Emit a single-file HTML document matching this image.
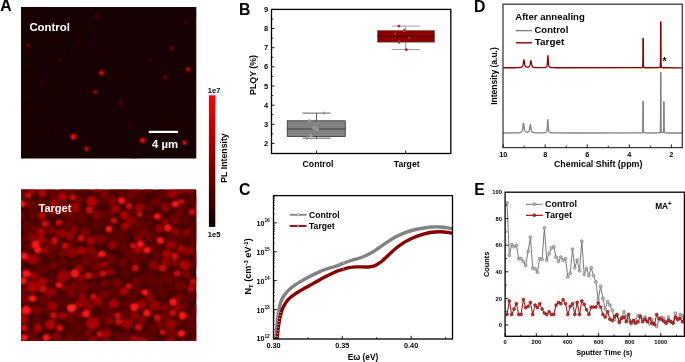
<!DOCTYPE html><html><head><meta charset="utf-8"><style>html,body{margin:0;padding:0;background:#fff}svg{display:block;will-change:transform}text{font-family:"Liberation Sans",sans-serif;font-weight:bold;fill:#000}</style></head><body>
<svg width="685" height="362" viewBox="0 0 685 362">
<defs><filter id="b1" x="-10%" y="-10%" width="120%" height="120%"><feGaussianBlur stdDeviation="1.1"/></filter><filter id="b2" x="-10%" y="-10%" width="120%" height="120%"><feGaussianBlur stdDeviation="1.15"/></filter><clipPath id="cA"><rect x="21" y="7" width="175.3" height="151.5"/></clipPath><clipPath id="cT"><rect x="21" y="189.6" width="175.3" height="151.4"/></clipPath><clipPath id="cC"><rect x="273.5" y="196" width="179" height="143"/></clipPath><clipPath id="cE"><rect x="505.1" y="192.2" width="179.3" height="144"/></clipPath><linearGradient id="cb" x1="0" y1="0" x2="0" y2="1"><stop offset="0" stop-color="#ff0000"/><stop offset="0.5" stop-color="#860000"/><stop offset="1" stop-color="#0c0000"/></linearGradient></defs>
<rect width="685" height="362" fill="#fff"/>
<text x="0.2" y="11.1" font-size="15.8">A</text>
<text x="239" y="14.5" font-size="15.8">B</text>
<text x="238.9" y="194.8" font-size="15.8">C</text>
<text x="474" y="11.9" font-size="15.8">D</text>
<text x="474.2" y="194.8" font-size="15.8">E</text>
<g clip-path="url(#cA)"><rect x="20" y="6" width="177" height="153" fill="#170303"/><g filter="url(#b1)">
<circle cx="77.7" cy="29.8" r="4.0" fill="#260404" opacity="0.18"/>
<circle cx="114.8" cy="62.2" r="2.2" fill="#260404" opacity="0.33"/>
<circle cx="27.6" cy="72.5" r="2.2" fill="#260404" opacity="0.18"/>
<circle cx="95.3" cy="131.9" r="2.4" fill="#260404" opacity="0.23"/>
<circle cx="130.8" cy="150.1" r="3.7" fill="#260404" opacity="0.29"/>
<circle cx="191.8" cy="14.0" r="4.6" fill="#260404" opacity="0.25"/>
<circle cx="46.2" cy="24.8" r="2.9" fill="#260404" opacity="0.44"/>
<circle cx="52.6" cy="94.8" r="3.9" fill="#260404" opacity="0.28"/>
<circle cx="116.9" cy="16.5" r="2.2" fill="#260404" opacity="0.22"/>
<circle cx="140.1" cy="71.6" r="2.9" fill="#260404" opacity="0.35"/>
<circle cx="100.3" cy="52.3" r="4.4" fill="#260404" opacity="0.39"/>
<circle cx="63.7" cy="93.7" r="3.6" fill="#260404" opacity="0.46"/>
<circle cx="148.7" cy="50.5" r="4.9" fill="#260404" opacity="0.19"/>
<circle cx="94.2" cy="121.3" r="2.5" fill="#260404" opacity="0.32"/>
<circle cx="27.9" cy="107.9" r="4.3" fill="#260404" opacity="0.35"/>
<circle cx="174.2" cy="54.4" r="4.1" fill="#260404" opacity="0.36"/>
<circle cx="122.5" cy="75.9" r="4.5" fill="#260404" opacity="0.48"/>
<circle cx="104.0" cy="107.3" r="2.2" fill="#260404" opacity="0.40"/>
<circle cx="134.2" cy="157.0" r="4.5" fill="#260404" opacity="0.25"/>
<circle cx="88.5" cy="108.0" r="2.1" fill="#260404" opacity="0.31"/>
<circle cx="50.4" cy="24.7" r="2.2" fill="#260404" opacity="0.42"/>
<circle cx="43.6" cy="44.4" r="3.2" fill="#260404" opacity="0.45"/>
<circle cx="35.1" cy="74.8" r="3.6" fill="#260404" opacity="0.46"/>
<circle cx="164.4" cy="137.5" r="2.8" fill="#260404" opacity="0.30"/>
<circle cx="83.8" cy="140.5" r="4.9" fill="#260404" opacity="0.20"/>
<circle cx="51.8" cy="42.0" r="2.7" fill="#260404" opacity="0.32"/>
<circle cx="124.1" cy="46.7" r="2.0" fill="#260404" opacity="0.30"/>
<circle cx="85.6" cy="92.5" r="4.9" fill="#260404" opacity="0.39"/>
<circle cx="111.2" cy="100.3" r="4.0" fill="#260404" opacity="0.17"/>
<circle cx="178.4" cy="124.8" r="4.6" fill="#260404" opacity="0.43"/>
<circle cx="89.7" cy="67.2" r="2.3" fill="#260404" opacity="0.37"/>
<circle cx="31.9" cy="17.2" r="2.6" fill="#260404" opacity="0.21"/>
<circle cx="80.5" cy="14.9" r="2.0" fill="#260404" opacity="0.20"/>
<circle cx="38.8" cy="61.9" r="2.1" fill="#260404" opacity="0.46"/>
<circle cx="128.5" cy="29.4" r="2.8" fill="#260404" opacity="0.27"/>
<circle cx="84.7" cy="25.5" r="4.5" fill="#260404" opacity="0.50"/>
<circle cx="102.5" cy="80.1" r="2.3" fill="#260404" opacity="0.19"/>
<circle cx="81.0" cy="47.0" r="4.5" fill="#260404" opacity="0.21"/>
<circle cx="25.0" cy="150.6" r="3.6" fill="#260404" opacity="0.20"/>
<circle cx="116.1" cy="11.1" r="3.6" fill="#260404" opacity="0.49"/>
<circle cx="172.1" cy="112.1" r="2.8" fill="#260404" opacity="0.28"/>
<circle cx="50.2" cy="123.6" r="3.6" fill="#260404" opacity="0.42"/>
<circle cx="78.7" cy="40.7" r="4.4" fill="#260404" opacity="0.49"/>
<circle cx="170.2" cy="128.7" r="4.5" fill="#260404" opacity="0.41"/>
<circle cx="60.7" cy="85.2" r="3.1" fill="#260404" opacity="0.16"/>
<circle cx="25.9" cy="49.2" r="2.8" fill="#260404" opacity="0.39"/>
<circle cx="188.4" cy="74.5" r="4.8" fill="#260404" opacity="0.50"/>
<circle cx="188.1" cy="62.1" r="2.7" fill="#260404" opacity="0.23"/>
<circle cx="55.4" cy="37.9" r="3.9" fill="#260404" opacity="0.47"/>
<circle cx="168.1" cy="79.4" r="4.0" fill="#260404" opacity="0.43"/>
<circle cx="35.8" cy="106.7" r="4.7" fill="#260404" opacity="0.42"/>
<circle cx="152.3" cy="79.2" r="2.5" fill="#260404" opacity="0.43"/>
<circle cx="79.2" cy="127.9" r="4.9" fill="#260404" opacity="0.29"/>
<circle cx="91.2" cy="150.0" r="4.2" fill="#260404" opacity="0.21"/>
<circle cx="43.2" cy="29.8" r="4.7" fill="#260404" opacity="0.43"/>
<circle cx="46.6" cy="131.8" r="4.9" fill="#260404" opacity="0.38"/>
<circle cx="82.3" cy="89.8" r="2.4" fill="#260404" opacity="0.15"/>
<circle cx="190.9" cy="105.1" r="3.6" fill="#260404" opacity="0.48"/>
<circle cx="96.9" cy="138.6" r="4.5" fill="#260404" opacity="0.22"/>
<circle cx="65.1" cy="51.2" r="2.7" fill="#260404" opacity="0.36"/>
<circle cx="101.6" cy="73" r="2.3" fill="#ff1010"/>
<circle cx="95.2" cy="92" r="2.0" fill="#c80808"/>
<circle cx="73.3" cy="136.7" r="2.8" fill="#ff1010"/>
<circle cx="86.5" cy="149" r="2.3" fill="#d00a0a"/>
<circle cx="142.6" cy="140.3" r="2.6" fill="#ff1010"/>
<circle cx="184.5" cy="142.6" r="2.2" fill="#ff1010"/>
<circle cx="188" cy="69" r="2.2" fill="#b80808"/>
<circle cx="172" cy="48" r="2.2" fill="#700606"/>
<circle cx="165" cy="77.5" r="2.2" fill="#600505"/>
<circle cx="28.7" cy="45.6" r="2.0" fill="#700606"/>
<circle cx="97" cy="16" r="2.0" fill="#5a0505"/>
<circle cx="120.7" cy="102.5" r="2.2" fill="#550505"/>
<circle cx="42" cy="82" r="2" fill="#400505"/>
<circle cx="186" cy="22" r="2" fill="#500505"/>
<circle cx="150" cy="60" r="2" fill="#400505"/>
<circle cx="60" cy="60" r="2" fill="#3a0505"/>
<circle cx="130" cy="125" r="2" fill="#400505"/>
</g></g>
<text x="29.4" y="31.4" font-size="11.4" style="fill:#fff">Control</text>
<rect x="148.8" y="130.8" width="29.3" height="2.2" fill="#fff"/>
<text x="152" y="147.6" font-size="10.8" textLength="26" lengthAdjust="spacingAndGlyphs" style="fill:#fff">4 µm</text>
<rect x="208.9" y="95.3" width="6.4" height="131.6" fill="url(#cb)"/>
<text x="207.7" y="92.9" font-size="7.6">1e7</text>
<text x="207.7" y="237" font-size="7.6">1e5</text>
<text transform="translate(227.2,158) rotate(-90)" font-size="8.75" text-anchor="middle">PL Intensity</text>
<g clip-path="url(#cT)"><rect x="20" y="189" width="177" height="153" fill="#440101"/><g filter="url(#b2)">
<ellipse cx="184.9" cy="265.3" rx="5.5" ry="5.1" fill="rgb(170,6,6)"/>
<ellipse cx="112.3" cy="188.0" rx="5.2" ry="5.0" fill="rgb(92,1,1)"/>
<ellipse cx="49.7" cy="185.6" rx="6.2" ry="5.4" fill="rgb(125,3,3)"/>
<ellipse cx="143.5" cy="257.4" rx="5.5" ry="5.4" fill="rgb(89,1,1)"/>
<ellipse cx="41.2" cy="204.5" rx="5.2" ry="4.6" fill="rgb(115,2,2)"/>
<ellipse cx="44.4" cy="299.6" rx="5.8" ry="5.6" fill="rgb(108,2,2)"/>
<ellipse cx="56.4" cy="337.4" rx="5.1" ry="4.9" fill="rgb(128,3,3)"/>
<ellipse cx="105.7" cy="343.4" rx="6.3" ry="5.4" fill="rgb(134,4,4)"/>
<ellipse cx="148.9" cy="188.1" rx="5.6" ry="5.1" fill="rgb(123,3,3)"/>
<ellipse cx="97.0" cy="187.9" rx="4.9" ry="4.9" fill="rgb(146,4,4)"/>
<ellipse cx="197.3" cy="311.1" rx="6.7" ry="6.6" fill="rgb(99,1,1)"/>
<ellipse cx="35.3" cy="227.5" rx="4.1" ry="3.7" fill="rgb(106,2,2)"/>
<ellipse cx="159.3" cy="228.3" rx="4.4" ry="3.7" fill="rgb(150,5,5)"/>
<ellipse cx="63.6" cy="208.9" rx="6.6" ry="5.8" fill="rgb(141,4,4)"/>
<ellipse cx="108.0" cy="213.5" rx="5.0" ry="4.4" fill="rgb(105,2,2)"/>
<ellipse cx="166.7" cy="254.1" rx="5.4" ry="4.6" fill="rgb(161,6,6)"/>
<ellipse cx="142.5" cy="342.2" rx="5.0" ry="4.9" fill="rgb(171,6,6)"/>
<ellipse cx="90.5" cy="240.6" rx="4.2" ry="3.9" fill="rgb(170,6,6)"/>
<ellipse cx="170.8" cy="324.3" rx="5.9" ry="5.5" fill="rgb(146,4,4)"/>
<ellipse cx="67.9" cy="223.8" rx="4.8" ry="4.8" fill="rgb(100,1,1)"/>
<ellipse cx="73.0" cy="242.1" rx="4.0" ry="3.4" fill="rgb(105,2,2)"/>
<ellipse cx="86.2" cy="260.9" rx="5.4" ry="5.2" fill="rgb(116,2,2)"/>
<ellipse cx="53.0" cy="265.8" rx="4.0" ry="3.6" fill="rgb(120,3,3)"/>
<ellipse cx="23.7" cy="188.6" rx="4.9" ry="4.5" fill="rgb(109,2,2)"/>
<ellipse cx="180.1" cy="285.4" rx="6.1" ry="5.4" fill="rgb(111,2,2)"/>
<ellipse cx="165.4" cy="207.3" rx="5.5" ry="5.4" fill="rgb(132,4,4)"/>
<ellipse cx="168.1" cy="278.4" rx="6.5" ry="6.2" fill="rgb(104,2,2)"/>
<ellipse cx="153.7" cy="265.5" rx="5.5" ry="5.2" fill="rgb(136,4,4)"/>
<ellipse cx="62.4" cy="196.9" rx="4.7" ry="4.6" fill="rgb(173,6,6)"/>
<ellipse cx="195.5" cy="264.0" rx="5.1" ry="4.9" fill="rgb(96,1,1)"/>
<ellipse cx="104.1" cy="294.4" rx="6.1" ry="5.3" fill="rgb(110,2,2)"/>
<ellipse cx="111.0" cy="259.3" rx="5.3" ry="4.9" fill="rgb(112,2,2)"/>
<ellipse cx="37.8" cy="328.0" rx="4.6" ry="4.4" fill="rgb(163,6,6)"/>
<ellipse cx="196.0" cy="334.8" rx="4.0" ry="3.6" fill="rgb(101,1,1)"/>
<ellipse cx="42.1" cy="268.9" rx="6.7" ry="5.8" fill="rgb(98,1,1)"/>
<ellipse cx="179.2" cy="297.5" rx="4.6" ry="4.4" fill="rgb(118,3,3)"/>
<ellipse cx="16.7" cy="263.7" rx="5.3" ry="5.0" fill="rgb(158,5,5)"/>
<ellipse cx="199.8" cy="279.3" rx="5.0" ry="4.4" fill="rgb(117,3,3)"/>
<ellipse cx="191.9" cy="326.5" rx="6.3" ry="5.4" fill="rgb(91,1,1)"/>
<ellipse cx="134.6" cy="230.8" rx="4.1" ry="4.1" fill="rgb(91,1,1)"/>
<ellipse cx="195.6" cy="226.6" rx="5.8" ry="5.4" fill="rgb(90,1,1)"/>
<ellipse cx="182.8" cy="344.4" rx="5.3" ry="4.5" fill="rgb(173,6,6)"/>
<ellipse cx="41.7" cy="215.8" rx="4.3" ry="4.2" fill="rgb(170,6,6)"/>
<ellipse cx="78.9" cy="199.6" rx="4.7" ry="4.6" fill="rgb(111,2,2)"/>
<ellipse cx="63.5" cy="276.1" rx="6.5" ry="6.1" fill="rgb(155,5,5)"/>
<ellipse cx="112.4" cy="245.3" rx="4.9" ry="4.7" fill="rgb(142,4,4)"/>
<ellipse cx="174.8" cy="219.6" rx="4.8" ry="4.6" fill="rgb(119,3,3)"/>
<ellipse cx="16.0" cy="247.6" rx="6.6" ry="5.9" fill="rgb(104,2,2)"/>
<ellipse cx="123.3" cy="247.1" rx="4.6" ry="4.5" fill="rgb(99,1,1)"/>
<ellipse cx="126.6" cy="186.7" rx="4.8" ry="4.4" fill="rgb(115,2,2)"/>
<ellipse cx="72.6" cy="188.5" rx="5.4" ry="5.1" fill="rgb(120,3,3)"/>
<ellipse cx="22.3" cy="239.1" rx="5.2" ry="4.5" fill="rgb(100,1,1)"/>
<ellipse cx="70.3" cy="337.3" rx="5.4" ry="5.4" fill="rgb(108,2,2)"/>
<ellipse cx="42.1" cy="193.3" rx="4.2" ry="4.0" fill="rgb(174,6,6)"/>
<ellipse cx="80.7" cy="337.9" rx="4.3" ry="3.8" fill="rgb(102,1,1)"/>
<ellipse cx="181.0" cy="189.8" rx="5.2" ry="4.9" fill="rgb(137,4,4)"/>
<ellipse cx="165.4" cy="307.7" rx="4.1" ry="4.1" fill="rgb(127,3,3)"/>
<ellipse cx="74.2" cy="229.1" rx="4.0" ry="3.7" fill="rgb(133,4,4)"/>
<ellipse cx="189.6" cy="188.9" rx="4.7" ry="4.5" fill="rgb(142,4,4)"/>
<ellipse cx="106.8" cy="333.5" rx="4.5" ry="4.3" fill="rgb(158,5,5)"/>
<ellipse cx="158.2" cy="282.2" rx="4.9" ry="4.8" fill="rgb(103,2,2)"/>
<ellipse cx="92.6" cy="323.3" rx="6.8" ry="6.3" fill="rgb(170,6,6)"/>
<ellipse cx="45.5" cy="310.7" rx="4.6" ry="4.0" fill="rgb(98,1,1)"/>
<ellipse cx="61.5" cy="301.0" rx="6.5" ry="6.4" fill="rgb(89,1,1)"/>
<ellipse cx="23.0" cy="319.1" rx="4.3" ry="4.3" fill="rgb(173,6,6)"/>
<ellipse cx="126.3" cy="273.0" rx="5.8" ry="5.3" fill="rgb(88,1,1)"/>
<ellipse cx="72.3" cy="252.2" rx="5.6" ry="5.6" fill="rgb(140,4,4)"/>
<ellipse cx="103.1" cy="202.1" rx="4.4" ry="3.7" fill="rgb(93,1,1)"/>
<ellipse cx="109.1" cy="236.1" rx="4.1" ry="3.7" fill="rgb(92,1,1)"/>
<ellipse cx="35.2" cy="343.9" rx="5.8" ry="5.0" fill="rgb(154,5,5)"/>
<ellipse cx="123.8" cy="291.2" rx="4.9" ry="4.2" fill="rgb(164,6,6)"/>
<ellipse cx="129.4" cy="254.2" rx="5.4" ry="4.9" fill="rgb(104,2,2)"/>
<ellipse cx="136.2" cy="188.6" rx="4.0" ry="3.9" fill="rgb(146,4,4)"/>
<ellipse cx="117.4" cy="335.5" rx="4.4" ry="4.1" fill="rgb(101,1,1)"/>
<ellipse cx="134.0" cy="315.1" rx="4.5" ry="4.5" fill="rgb(147,5,5)"/>
<ellipse cx="134.1" cy="339.4" rx="4.6" ry="4.2" fill="rgb(169,6,6)"/>
<ellipse cx="132.0" cy="295.9" rx="5.9" ry="5.3" fill="rgb(92,1,1)"/>
<ellipse cx="183.6" cy="208.1" rx="4.1" ry="3.7" fill="rgb(100,1,1)"/>
<ellipse cx="53.9" cy="202.9" rx="4.1" ry="4.1" fill="rgb(160,5,5)"/>
<ellipse cx="156.2" cy="341.5" rx="4.0" ry="4.0" fill="rgb(89,1,1)"/>
<ellipse cx="154.8" cy="305.5" rx="5.8" ry="5.6" fill="rgb(148,5,5)"/>
<ellipse cx="54.0" cy="247.1" rx="4.1" ry="3.9" fill="rgb(116,2,2)"/>
<ellipse cx="42.1" cy="281.6" rx="5.1" ry="4.5" fill="rgb(166,6,6)"/>
<ellipse cx="73.6" cy="285.5" rx="4.3" ry="4.2" fill="rgb(116,2,2)"/>
<ellipse cx="140.2" cy="333.8" rx="4.5" ry="4.5" fill="rgb(92,1,1)"/>
<ellipse cx="62.7" cy="253.2" rx="4.5" ry="4.0" fill="rgb(115,2,2)"/>
<ellipse cx="16.5" cy="300.5" rx="4.8" ry="4.6" fill="rgb(141,4,4)"/>
<ellipse cx="61.1" cy="233.3" rx="5.3" ry="4.9" fill="rgb(145,4,4)"/>
<ellipse cx="113.7" cy="303.7" rx="5.2" ry="4.9" fill="rgb(166,6,6)"/>
<ellipse cx="170.7" cy="245.0" rx="5.2" ry="4.5" fill="rgb(152,5,5)"/>
<ellipse cx="69.9" cy="317.4" rx="5.1" ry="4.8" fill="rgb(110,2,2)"/>
<ellipse cx="17.1" cy="215.4" rx="6.6" ry="5.7" fill="rgb(139,4,4)"/>
<ellipse cx="91.9" cy="201.3" rx="5.8" ry="5.5" fill="rgb(175,6,6)"/>
<ellipse cx="193.8" cy="199.1" rx="6.4" ry="5.5" fill="rgb(95,1,1)"/>
<ellipse cx="174.4" cy="262.8" rx="4.2" ry="3.7" fill="rgb(134,4,4)"/>
<ellipse cx="82.8" cy="288.2" rx="5.8" ry="5.5" fill="rgb(116,2,2)"/>
<ellipse cx="124.4" cy="215.3" rx="4.5" ry="4.5" fill="rgb(174,6,6)"/>
<ellipse cx="79.5" cy="268.1" rx="4.1" ry="3.6" fill="rgb(152,5,5)"/>
<ellipse cx="193.7" cy="343.7" rx="4.6" ry="4.2" fill="rgb(166,6,6)"/>
<ellipse cx="155.5" cy="201.9" rx="4.9" ry="4.4" fill="rgb(110,2,2)"/>
<ellipse cx="62.1" cy="315.7" rx="4.1" ry="3.6" fill="rgb(167,6,6)"/>
<ellipse cx="172.0" cy="193.6" rx="5.4" ry="4.7" fill="rgb(158,5,5)"/>
<ellipse cx="116.8" cy="283.0" rx="5.3" ry="4.7" fill="rgb(122,3,3)"/>
<ellipse cx="112.6" cy="200.8" rx="5.0" ry="5.0" fill="rgb(127,3,3)"/>
<ellipse cx="47.9" cy="242.3" rx="4.5" ry="4.0" fill="rgb(110,2,2)"/>
<ellipse cx="51.2" cy="230.4" rx="4.7" ry="4.6" fill="rgb(119,3,3)"/>
<ellipse cx="22.4" cy="291.3" rx="5.0" ry="4.4" fill="rgb(112,2,2)"/>
<ellipse cx="110.4" cy="271.8" rx="4.8" ry="4.1" fill="rgb(136,4,4)"/>
<ellipse cx="147.9" cy="225.8" rx="5.2" ry="5.0" fill="rgb(92,1,1)"/>
<ellipse cx="88.4" cy="304.6" rx="6.3" ry="6.2" fill="rgb(132,4,4)"/>
<ellipse cx="81.8" cy="250.9" rx="4.6" ry="4.1" fill="rgb(165,6,6)"/>
<ellipse cx="139.3" cy="223.1" rx="4.7" ry="4.1" fill="rgb(106,2,2)"/>
<ellipse cx="54.0" cy="194.7" rx="4.8" ry="4.3" fill="rgb(104,2,2)"/>
<ellipse cx="18.0" cy="343.7" rx="6.1" ry="5.7" fill="rgb(132,4,4)"/>
<ellipse cx="31.6" cy="236.8" rx="5.3" ry="5.3" fill="rgb(126,3,3)"/>
<ellipse cx="62.3" cy="263.3" rx="5.6" ry="5.0" fill="rgb(96,1,1)"/>
<ellipse cx="84.5" cy="187.4" rx="5.7" ry="5.6" fill="rgb(97,1,1)"/>
<ellipse cx="122.8" cy="343.0" rx="5.0" ry="5.0" fill="rgb(125,3,3)"/>
<ellipse cx="126.9" cy="323.3" rx="5.8" ry="5.3" fill="rgb(157,5,5)"/>
<ellipse cx="149.2" cy="237.7" rx="4.3" ry="4.0" fill="rgb(111,2,2)"/>
<ellipse cx="137.0" cy="281.3" rx="4.9" ry="4.6" fill="rgb(113,2,2)"/>
<ellipse cx="32.5" cy="189.5" rx="4.4" ry="4.1" fill="rgb(152,5,5)"/>
<ellipse cx="131.4" cy="220.9" rx="4.7" ry="4.1" fill="rgb(138,4,4)"/>
<ellipse cx="93.1" cy="340.7" rx="5.1" ry="4.7" fill="rgb(141,4,4)"/>
<ellipse cx="199.7" cy="185.8" rx="5.7" ry="5.0" fill="rgb(165,6,6)"/>
<ellipse cx="103.7" cy="220.4" rx="4.4" ry="3.9" fill="rgb(88,1,1)"/>
<ellipse cx="199.4" cy="296.2" rx="5.3" ry="5.2" fill="rgb(102,2,2)"/>
<ellipse cx="32.8" cy="286.8" rx="6.4" ry="5.9" fill="rgb(170,6,6)"/>
<ellipse cx="138.5" cy="237.7" rx="4.2" ry="3.6" fill="rgb(130,3,3)"/>
<ellipse cx="33.2" cy="259.3" rx="6.0" ry="5.3" fill="rgb(156,5,5)"/>
<ellipse cx="189.0" cy="250.9" rx="5.1" ry="4.5" fill="rgb(142,4,4)"/>
<ellipse cx="161.9" cy="185.7" rx="5.4" ry="4.9" fill="rgb(105,2,2)"/>
<ellipse cx="192.2" cy="243.0" rx="4.6" ry="4.5" fill="rgb(93,1,1)"/>
<ellipse cx="50.2" cy="324.5" rx="5.5" ry="5.1" fill="rgb(174,6,6)"/>
<ellipse cx="40.6" cy="239.2" rx="4.2" ry="4.0" fill="rgb(162,6,6)"/>
<ellipse cx="82.2" cy="296.9" rx="4.2" ry="3.7" fill="rgb(149,5,5)"/>
<ellipse cx="170.3" cy="237.0" rx="4.0" ry="3.7" fill="rgb(104,2,2)"/>
<ellipse cx="170.0" cy="344.1" rx="6.1" ry="5.7" fill="rgb(170,6,6)"/>
<ellipse cx="97.9" cy="301.5" rx="4.3" ry="4.0" fill="rgb(163,6,6)"/>
<ellipse cx="186.9" cy="274.7" rx="4.1" ry="3.6" fill="rgb(127,3,3)"/>
<ellipse cx="99.8" cy="239.3" rx="6.2" ry="5.3" fill="rgb(125,3,3)"/>
<ellipse cx="159.9" cy="324.2" rx="4.6" ry="3.9" fill="rgb(124,3,3)"/>
<ellipse cx="198.6" cy="254.4" rx="5.1" ry="5.0" fill="rgb(121,3,3)"/>
<ellipse cx="52.6" cy="210.8" rx="5.1" ry="4.6" fill="rgb(139,4,4)"/>
<ellipse cx="141.5" cy="304.2" rx="4.6" ry="4.6" fill="rgb(157,5,5)"/>
<ellipse cx="124.3" cy="313.1" rx="4.4" ry="3.8" fill="rgb(97,1,1)"/>
<ellipse cx="51.7" cy="292.2" rx="5.4" ry="4.7" fill="rgb(144,4,4)"/>
<ellipse cx="85.0" cy="231.5" rx="5.1" ry="4.4" fill="rgb(126,3,3)"/>
<ellipse cx="125.5" cy="225.8" rx="4.1" ry="3.9" fill="rgb(168,6,6)"/>
<ellipse cx="95.6" cy="266.2" rx="4.8" ry="4.3" fill="rgb(121,3,3)"/>
<ellipse cx="104.9" cy="283.7" rx="4.4" ry="3.8" fill="rgb(118,3,3)"/>
<ellipse cx="152.2" cy="289.0" rx="5.1" ry="4.7" fill="rgb(88,1,1)"/>
<ellipse cx="62.6" cy="188.9" rx="4.3" ry="3.7" fill="rgb(122,3,3)"/>
<ellipse cx="199.4" cy="217.4" rx="4.9" ry="4.7" fill="rgb(104,2,2)"/>
<ellipse cx="165.1" cy="221.7" rx="4.0" ry="3.7" fill="rgb(135,4,4)"/>
<ellipse cx="110.3" cy="313.3" rx="4.4" ry="4.1" fill="rgb(107,2,2)"/>
<ellipse cx="74.5" cy="207.9" rx="5.7" ry="5.0" fill="rgb(155,5,5)"/>
<ellipse cx="29.9" cy="204.8" rx="5.0" ry="4.8" fill="rgb(104,2,2)"/>
<ellipse cx="96.8" cy="214.6" rx="5.2" ry="4.9" fill="rgb(125,3,3)"/>
<ellipse cx="178.2" cy="212.9" rx="4.0" ry="4.0" fill="rgb(109,2,2)"/>
<ellipse cx="36.1" cy="309.7" rx="5.1" ry="4.7" fill="rgb(121,3,3)"/>
<ellipse cx="16.5" cy="226.6" rx="4.7" ry="4.0" fill="rgb(117,2,2)"/>
<ellipse cx="186.6" cy="233.0" rx="5.2" ry="4.5" fill="rgb(127,3,3)"/>
<ellipse cx="184.4" cy="305.7" rx="4.1" ry="4.1" fill="rgb(106,2,2)"/>
<ellipse cx="84.5" cy="344.9" rx="4.1" ry="3.5" fill="rgb(91,1,1)"/>
<ellipse cx="123.1" cy="262.9" rx="5.2" ry="4.7" fill="rgb(109,2,2)"/>
<ellipse cx="71.3" cy="293.5" rx="5.0" ry="4.7" fill="rgb(121,3,3)"/>
<ellipse cx="120.4" cy="191.9" rx="4.4" ry="4.4" fill="rgb(98,1,1)"/>
<ellipse cx="154.7" cy="247.3" rx="4.9" ry="4.8" fill="rgb(100,1,1)"/>
<ellipse cx="80.7" cy="278.7" rx="4.6" ry="4.0" fill="rgb(133,4,4)"/>
<ellipse cx="95.8" cy="256.7" rx="4.5" ry="4.3" fill="rgb(126,3,3)"/>
<ellipse cx="17.7" cy="273.3" rx="4.1" ry="3.9" fill="rgb(115,2,2)"/>
<ellipse cx="96.4" cy="275.0" rx="4.3" ry="3.8" fill="rgb(115,2,2)"/>
<ellipse cx="132.1" cy="212.3" rx="4.2" ry="4.0" fill="rgb(96,1,1)"/>
<ellipse cx="78.7" cy="304.2" rx="4.6" ry="4.3" fill="rgb(162,6,6)"/>
<ellipse cx="75.6" cy="262.2" rx="4.0" ry="3.7" fill="rgb(96,1,1)"/>
<ellipse cx="142.7" cy="232.0" rx="4.2" ry="3.8" fill="rgb(121,3,3)"/>
<ellipse cx="52.4" cy="306.0" rx="4.8" ry="4.6" fill="rgb(160,5,5)"/>
<ellipse cx="138.3" cy="289.9" rx="4.0" ry="4.0" fill="rgb(103,2,2)"/>
<ellipse cx="109.6" cy="321.1" rx="4.0" ry="3.7" fill="rgb(142,4,4)"/>
<ellipse cx="16.2" cy="334.5" rx="4.1" ry="3.5" fill="rgb(114,2,2)"/>
<ellipse cx="199.9" cy="236.9" rx="5.8" ry="5.6" fill="rgb(96,1,1)"/>
<ellipse cx="87.6" cy="333.1" rx="4.1" ry="3.6" fill="rgb(124,3,3)"/>
<ellipse cx="198.5" cy="208.1" rx="4.6" ry="4.4" fill="rgb(146,4,4)"/>
<ellipse cx="90.6" cy="250.2" rx="4.6" ry="4.6" fill="rgb(136,4,4)"/>
<ellipse cx="175.7" cy="231.3" rx="4.1" ry="3.6" fill="rgb(149,5,5)"/>
<ellipse cx="180.3" cy="322.3" rx="4.3" ry="4.3" fill="rgb(96,1,1)"/>
<ellipse cx="41.1" cy="232.0" rx="4.3" ry="3.9" fill="rgb(171,6,6)"/>
<ellipse cx="45.1" cy="250.4" rx="4.0" ry="3.8" fill="rgb(149,5,5)"/>
<ellipse cx="103.3" cy="264.6" rx="4.2" ry="3.7" fill="rgb(154,5,5)"/>
<ellipse cx="64.5" cy="343.5" rx="4.0" ry="3.6" fill="rgb(122,3,3)"/>
<ellipse cx="149.5" cy="216.4" rx="4.3" ry="4.3" fill="rgb(97,1,1)"/>
<ellipse cx="18.1" cy="311.4" rx="4.7" ry="4.7" fill="rgb(146,4,4)"/>
<ellipse cx="18.5" cy="196.2" rx="4.6" ry="4.0" fill="rgb(164,6,6)"/>
<ellipse cx="149.5" cy="297.6" rx="4.7" ry="4.5" fill="rgb(136,4,4)"/>
<ellipse cx="65.0" cy="287.4" rx="4.2" ry="3.6" fill="rgb(122,3,3)"/>
<ellipse cx="32.3" cy="334.5" rx="4.7" ry="4.4" fill="rgb(102,2,2)"/>
<ellipse cx="29.0" cy="247.4" rx="4.1" ry="4.0" fill="rgb(104,2,2)"/>
<ellipse cx="104.3" cy="194.2" rx="4.8" ry="4.8" fill="rgb(126,3,3)"/>
<ellipse cx="191.0" cy="288.3" rx="4.1" ry="3.6" fill="rgb(175,6,6)"/>
<ellipse cx="24.9" cy="299.2" rx="4.3" ry="4.0" fill="rgb(118,3,3)"/>
<ellipse cx="69.9" cy="235.3" rx="4.6" ry="4.5" fill="rgb(148,5,5)"/>
<ellipse cx="33.7" cy="276.0" rx="4.6" ry="4.2" fill="rgb(150,5,5)"/>
<ellipse cx="171.1" cy="288.3" rx="4.4" ry="3.8" fill="rgb(88,1,1)"/>
<ellipse cx="79.1" cy="314.8" rx="4.1" ry="3.7" fill="rgb(113,2,2)"/>
<ellipse cx="156.1" cy="235.3" rx="4.1" ry="4.0" fill="rgb(91,1,1)"/>
<ellipse cx="115.5" cy="209.0" rx="4.4" ry="3.9" fill="rgb(168,6,6)"/>
<ellipse cx="182.0" cy="256.7" rx="4.3" ry="4.1" fill="rgb(90,1,1)"/>
<ellipse cx="141.4" cy="319.6" rx="4.8" ry="4.2" fill="rgb(126,3,3)"/>
<ellipse cx="180.8" cy="248.7" rx="4.1" ry="3.7" fill="rgb(172,6,6)"/>
<ellipse cx="17.0" cy="285.2" rx="4.1" ry="3.7" fill="rgb(173,6,6)"/>
<ellipse cx="165.5" cy="262.3" rx="4.1" ry="4.0" fill="rgb(156,5,5)"/>
<ellipse cx="172.4" cy="334.3" rx="5.0" ry="4.7" fill="rgb(121,3,3)"/>
<ellipse cx="189.3" cy="317.5" rx="4.3" ry="3.8" fill="rgb(100,1,1)"/>
<ellipse cx="165.9" cy="316.2" rx="4.5" ry="4.2" fill="rgb(115,2,2)"/>
<ellipse cx="16.9" cy="325.0" rx="4.9" ry="4.4" fill="rgb(130,3,3)"/>
<ellipse cx="130.3" cy="195.6" rx="4.2" ry="3.9" fill="rgb(120,3,3)"/>
<ellipse cx="139.6" cy="207.4" rx="4.4" ry="3.7" fill="rgb(164,6,6)"/>
<ellipse cx="137.7" cy="250.2" rx="4.1" ry="3.6" fill="rgb(163,6,6)"/>
<ellipse cx="149.6" cy="337.2" rx="4.8" ry="4.3" fill="rgb(97,1,1)"/>
<ellipse cx="46.5" cy="344.9" rx="4.4" ry="4.1" fill="rgb(98,1,1)"/>
<ellipse cx="177.2" cy="307.9" rx="4.2" ry="3.8" fill="rgb(141,4,4)"/>
<ellipse cx="102.8" cy="327.1" rx="4.1" ry="3.6" fill="rgb(88,1,1)"/>
<ellipse cx="135.6" cy="260.4" rx="4.2" ry="4.0" fill="rgb(103,2,2)"/>
<ellipse cx="69.9" cy="216.3" rx="4.1" ry="3.8" fill="rgb(104,2,2)"/>
<ellipse cx="81.0" cy="218.4" rx="7.0" ry="6.6" fill="#5e0202"/>
<ellipse cx="26.3" cy="226.8" rx="5.5" ry="5.4" fill="#5e0202"/>
<ellipse cx="32.6" cy="214.2" rx="5.0" ry="4.3" fill="#5e0202"/>
<ellipse cx="51.5" cy="256.2" rx="5.0" ry="4.4" fill="#5e0202"/>
<ellipse cx="95.6" cy="224.7" rx="5.5" ry="4.7" fill="#5e0202"/>
<ellipse cx="139.5" cy="197.4" rx="6.0" ry="5.3" fill="#5e0202"/>
<ellipse cx="148.0" cy="208.0" rx="5.0" ry="4.7" fill="#5e0202"/>
<ellipse cx="120.6" cy="235.2" rx="7.0" ry="6.7" fill="#5e0202"/>
<ellipse cx="179.4" cy="239.4" rx="5.5" ry="5.4" fill="#5e0202"/>
<ellipse cx="185.7" cy="220.5" rx="5.5" ry="4.9" fill="#5e0202"/>
<ellipse cx="156.0" cy="256.0" rx="5.0" ry="4.4" fill="#5e0202"/>
<ellipse cx="162.6" cy="195.3" rx="5.0" ry="4.9" fill="#5e0202"/>
<ellipse cx="93.5" cy="286.0" rx="5.0" ry="4.6" fill="#5e0202"/>
<ellipse cx="76.7" cy="325.9" rx="7.0" ry="6.5" fill="#5e0202"/>
<ellipse cx="36.8" cy="319.6" rx="5.0" ry="4.6" fill="#5e0202"/>
<ellipse cx="102.0" cy="317.5" rx="5.0" ry="4.6" fill="#5e0202"/>
<ellipse cx="51.5" cy="279.7" rx="5.0" ry="4.7" fill="#5e0202"/>
<ellipse cx="104.0" cy="307.0" rx="5.0" ry="4.4" fill="#5e0202"/>
<ellipse cx="148.0" cy="277.6" rx="7.0" ry="6.6" fill="#5e0202"/>
<ellipse cx="114.3" cy="292.3" rx="5.5" ry="4.7" fill="#5e0202"/>
<ellipse cx="124.8" cy="305.0" rx="5.0" ry="5.0" fill="#5e0202"/>
<ellipse cx="162.6" cy="292.3" rx="5.5" ry="4.9" fill="#5e0202"/>
<ellipse cx="152.0" cy="328.0" rx="5.5" ry="5.2" fill="#5e0202"/>
<ellipse cx="190.0" cy="296.5" rx="5.0" ry="4.5" fill="#5e0202"/>
<ellipse cx="127.0" cy="334.0" rx="5.0" ry="4.3" fill="#5e0202"/>
<ellipse cx="35.8" cy="244.7" rx="4.0" ry="3.9" fill="#fa1414"/>
<ellipse cx="37.9" cy="250.0" rx="3.6" ry="3.4" fill="#fa1414"/>
<ellipse cx="45.2" cy="223.7" rx="3.8" ry="3.3" fill="#c60909"/>
<ellipse cx="54.7" cy="240.5" rx="3.6" ry="3.4" fill="#c60909"/>
<ellipse cx="65.2" cy="245.7" rx="3.6" ry="3.1" fill="#c60909"/>
<ellipse cx="24.2" cy="256.2" rx="3.8" ry="3.6" fill="#fa1414"/>
<ellipse cx="102.0" cy="254.0" rx="3.6" ry="3.3" fill="#fa1414"/>
<ellipse cx="89.3" cy="210.0" rx="3.8" ry="3.6" fill="#c60909"/>
<ellipse cx="58.9" cy="222.6" rx="3.4" ry="3.1" fill="#c60909"/>
<ellipse cx="81.0" cy="238.4" rx="3.6" ry="3.3" fill="#c60909"/>
<ellipse cx="28.4" cy="195.3" rx="3.4" ry="3.1" fill="#c60909"/>
<ellipse cx="72.5" cy="197.4" rx="3.4" ry="2.9" fill="#c60909"/>
<ellipse cx="22.0" cy="203.7" rx="3.4" ry="3.3" fill="#fa1414"/>
<ellipse cx="121.7" cy="200.6" rx="3.6" ry="3.3" fill="#fa1414"/>
<ellipse cx="175.2" cy="204.1" rx="3.6" ry="3.3" fill="#fa1414"/>
<ellipse cx="181.5" cy="201.6" rx="3.2" ry="2.7" fill="#c60909"/>
<ellipse cx="157.4" cy="216.3" rx="3.4" ry="3.1" fill="#fa1414"/>
<ellipse cx="167.9" cy="227.9" rx="3.6" ry="3.5" fill="#fa1414"/>
<ellipse cx="160.5" cy="240.5" rx="3.6" ry="3.3" fill="#fa1414"/>
<ellipse cx="140.6" cy="244.0" rx="3.6" ry="3.2" fill="#fa1414"/>
<ellipse cx="146.9" cy="249.9" rx="3.6" ry="3.2" fill="#fa1414"/>
<ellipse cx="109.0" cy="228.9" rx="3.4" ry="3.1" fill="#fa1414"/>
<ellipse cx="133.2" cy="245.7" rx="3.4" ry="2.9" fill="#c60909"/>
<ellipse cx="129.0" cy="205.8" rx="3.4" ry="3.3" fill="#c60909"/>
<ellipse cx="139.5" cy="214.2" rx="3.0" ry="2.7" fill="#c60909"/>
<ellipse cx="192.0" cy="212.0" rx="3.4" ry="3.2" fill="#c60909"/>
<ellipse cx="175.0" cy="256.0" rx="3.6" ry="3.6" fill="#c60909"/>
<ellipse cx="114.0" cy="220.5" rx="3.4" ry="2.9" fill="#c60909"/>
<ellipse cx="74.6" cy="273.4" rx="4.2" ry="4.1" fill="#fa1414"/>
<ellipse cx="26.3" cy="273.4" rx="4.0" ry="3.6" fill="#fa1414"/>
<ellipse cx="23.2" cy="280.8" rx="3.6" ry="3.5" fill="#fa1414"/>
<ellipse cx="88.3" cy="275.5" rx="3.8" ry="3.6" fill="#c60909"/>
<ellipse cx="58.9" cy="285.0" rx="3.2" ry="3.0" fill="#fa1414"/>
<ellipse cx="43.1" cy="289.2" rx="3.8" ry="3.6" fill="#c60909"/>
<ellipse cx="32.6" cy="298.6" rx="3.8" ry="3.3" fill="#fa1414"/>
<ellipse cx="71.5" cy="308.1" rx="4.6" ry="4.0" fill="#ff2828"/>
<ellipse cx="26.3" cy="310.2" rx="4.6" ry="4.4" fill="#fa1414"/>
<ellipse cx="86.2" cy="313.7" rx="3.8" ry="3.8" fill="#fa1414"/>
<ellipse cx="53.6" cy="315.4" rx="3.6" ry="3.3" fill="#c60909"/>
<ellipse cx="59.9" cy="328.0" rx="3.8" ry="3.5" fill="#c60909"/>
<ellipse cx="24.2" cy="328.0" rx="3.6" ry="3.5" fill="#c60909"/>
<ellipse cx="46.3" cy="337.5" rx="3.6" ry="3.5" fill="#fa1414"/>
<ellipse cx="24.2" cy="337.5" rx="3.6" ry="3.3" fill="#fa1414"/>
<ellipse cx="93.5" cy="296.5" rx="3.4" ry="3.1" fill="#c60909"/>
<ellipse cx="103.0" cy="273.4" rx="3.6" ry="3.2" fill="#c60909"/>
<ellipse cx="99.8" cy="334.3" rx="3.4" ry="3.4" fill="#c60909"/>
<ellipse cx="144.8" cy="292.3" rx="3.2" ry="2.8" fill="#fa1414"/>
<ellipse cx="173.1" cy="301.8" rx="3.8" ry="3.6" fill="#fa1414"/>
<ellipse cx="134.3" cy="307.0" rx="4.0" ry="3.9" fill="#fa1414"/>
<ellipse cx="146.9" cy="312.9" rx="3.8" ry="3.5" fill="#fa1414"/>
<ellipse cx="182.6" cy="315.4" rx="3.8" ry="3.6" fill="#fa1414"/>
<ellipse cx="157.4" cy="317.5" rx="3.6" ry="3.4" fill="#c60909"/>
<ellipse cx="138.5" cy="327.0" rx="3.8" ry="3.5" fill="#c60909"/>
<ellipse cx="181.5" cy="333.3" rx="3.8" ry="3.4" fill="#fa1414"/>
<ellipse cx="162.6" cy="268.2" rx="3.8" ry="3.3" fill="#c60909"/>
<ellipse cx="135.3" cy="268.2" rx="3.6" ry="3.4" fill="#c60909"/>
<ellipse cx="177.3" cy="273.4" rx="3.6" ry="3.1" fill="#c60909"/>
<ellipse cx="117.5" cy="315.4" rx="3.4" ry="3.2" fill="#c60909"/>
<ellipse cx="118.5" cy="321.7" rx="3.4" ry="3.4" fill="#c60909"/>
<ellipse cx="129.0" cy="286.0" rx="3.4" ry="3.1" fill="#c60909"/>
<ellipse cx="193.0" cy="281.8" rx="3.4" ry="3.0" fill="#c60909"/>
<ellipse cx="162.6" cy="332.2" rx="3.4" ry="3.0" fill="#c60909"/>
<ellipse cx="173.0" cy="313.0" rx="3.4" ry="3.4" fill="#c60909"/>
</g></g>
<text x="38.5" y="211.8" font-size="11" style="fill:#fff">Target</text>
<rect x="271.5" y="9.4" width="179.3" height="144.1" fill="none" stroke="#000" stroke-width="1.3"/>
<line x1="271.5" y1="143.4" x2="274.5" y2="143.4" stroke="#000" stroke-width="0.9"/>
<text x="268.2" y="146.0" font-size="7.5" text-anchor="end">2</text>
<line x1="271.5" y1="124.3" x2="274.5" y2="124.3" stroke="#000" stroke-width="0.9"/>
<text x="268.2" y="126.9" font-size="7.5" text-anchor="end">3</text>
<line x1="271.5" y1="105.2" x2="274.5" y2="105.2" stroke="#000" stroke-width="0.9"/>
<text x="268.2" y="107.8" font-size="7.5" text-anchor="end">4</text>
<line x1="271.5" y1="86.0" x2="274.5" y2="86.0" stroke="#000" stroke-width="0.9"/>
<text x="268.2" y="88.6" font-size="7.5" text-anchor="end">5</text>
<line x1="271.5" y1="66.8" x2="274.5" y2="66.8" stroke="#000" stroke-width="0.9"/>
<text x="268.2" y="69.4" font-size="7.5" text-anchor="end">6</text>
<line x1="271.5" y1="47.7" x2="274.5" y2="47.7" stroke="#000" stroke-width="0.9"/>
<text x="268.2" y="50.3" font-size="7.5" text-anchor="end">7</text>
<line x1="271.5" y1="28.5" x2="274.5" y2="28.5" stroke="#000" stroke-width="0.9"/>
<text x="268.2" y="31.1" font-size="7.5" text-anchor="end">8</text>
<line x1="271.5" y1="9.4" x2="274.5" y2="9.4" stroke="#000" stroke-width="0.9"/>
<text x="268.2" y="12.0" font-size="7.5" text-anchor="end">9</text>
<line x1="271.5" y1="133.9" x2="273.3" y2="133.9" stroke="#000" stroke-width="0.8"/>
<line x1="271.5" y1="114.7" x2="273.3" y2="114.7" stroke="#000" stroke-width="0.8"/>
<line x1="271.5" y1="95.6" x2="273.3" y2="95.6" stroke="#000" stroke-width="0.8"/>
<line x1="271.5" y1="76.4" x2="273.3" y2="76.4" stroke="#000" stroke-width="0.8"/>
<line x1="271.5" y1="57.3" x2="273.3" y2="57.3" stroke="#000" stroke-width="0.8"/>
<line x1="271.5" y1="38.1" x2="273.3" y2="38.1" stroke="#000" stroke-width="0.8"/>
<line x1="271.5" y1="19.0" x2="273.3" y2="19.0" stroke="#000" stroke-width="0.8"/>
<line x1="316.5" y1="153.5" x2="316.5" y2="150.5" stroke="#000" stroke-width="0.9"/>
<line x1="405.7" y1="153.5" x2="405.7" y2="150.5" stroke="#000" stroke-width="0.9"/>
<text x="318" y="167" font-size="8.7" text-anchor="middle">Control</text>
<text x="406.7" y="167" font-size="8.7" text-anchor="middle">Target</text>
<text transform="translate(256,75) rotate(-90)" font-size="8.8" text-anchor="middle">PLQY (%)</text>
<g stroke="#2a2a2a" stroke-width="0.75"><line x1="316.5" y1="113.1" x2="316.5" y2="138.2"/><line x1="302.6" y1="113.1" x2="330.6" y2="113.1"/><line x1="302.6" y1="138.2" x2="330.6" y2="138.2"/><rect x="287.2" y="120.8" width="58.1" height="15.7" fill="#828282"/><line x1="287.2" y1="129" x2="345.3" y2="129"/></g>
<circle cx="323.7" cy="113.1" r="1.35" fill="#828282" stroke="#c8c8c8" stroke-width="0.5"/>
<circle cx="309.5" cy="120.6" r="1.35" fill="#828282" stroke="#c8c8c8" stroke-width="0.5"/>
<circle cx="314" cy="128" r="1.35" fill="#828282" stroke="#c8c8c8" stroke-width="0.5"/>
<circle cx="317" cy="129.3" r="1.35" fill="#828282" stroke="#c8c8c8" stroke-width="0.5"/>
<circle cx="310.8" cy="136" r="1.35" fill="#828282" stroke="#c8c8c8" stroke-width="0.5"/>
<circle cx="307" cy="138.2" r="1.35" fill="#828282" stroke="#c8c8c8" stroke-width="0.5"/>
<g stroke="#777" stroke-width="0.7"><line x1="405.6" y1="26.1" x2="405.6" y2="49.5"/><line x1="391.7" y1="26.1" x2="420" y2="26.1"/><line x1="391.7" y1="49.5" x2="420" y2="49.5"/><rect x="377.3" y="30.3" width="57.4" height="11.9" fill="#8b0000"/><line x1="377.3" y1="36.3" x2="434.7" y2="36.3" stroke="#300"/></g>
<circle cx="398.9" cy="26.1" r="1.35" fill="#a00000" stroke="#e0a0a0" stroke-width="0.5"/>
<circle cx="404.6" cy="30.3" r="1.35" fill="#a00000" stroke="#e0a0a0" stroke-width="0.5"/>
<circle cx="399.1" cy="42.2" r="1.35" fill="#a00000" stroke="#e0a0a0" stroke-width="0.5"/>
<circle cx="406.3" cy="49.7" r="1.35" fill="#a00000" stroke="#e0a0a0" stroke-width="0.5"/>
<circle cx="395.2" cy="33.8" r="0.6" fill="#f0c0c0"/>
<circle cx="409.3" cy="37.8" r="0.6" fill="#f0c0c0"/>
<g clip-path="url(#cC)" fill="none" stroke-linecap="round" stroke-linejoin="round">
<path d="M275.9,339.0C276.0,337.8 276.0,334.8 276.3,331.6C276.6,328.4 277.1,323.3 277.5,319.7C277.9,316.1 278.3,312.8 278.9,309.8C279.5,306.8 280.1,304.1 280.9,301.8C281.7,299.5 282.7,297.6 283.9,295.8C285.1,294.0 286.2,292.5 287.9,290.9C289.5,289.2 291.5,287.6 293.8,285.9C296.1,284.2 299.2,282.4 301.8,280.9C304.4,279.3 307.1,278.0 309.7,276.6C312.3,275.2 315.5,273.6 317.7,272.6C319.9,271.6 320.8,271.1 322.7,270.4C324.6,269.7 326.9,268.8 329.0,268.2C331.1,267.6 332.5,267.4 335.0,266.5C337.5,265.6 340.9,264.2 343.8,263.1C346.7,262.0 349.6,260.9 352.5,260.0C355.4,259.1 358.4,258.6 361.3,257.5C364.2,256.4 367.1,255.2 370.0,253.6C372.9,252.0 375.9,249.9 378.8,248.0C381.7,246.1 384.7,243.8 387.6,241.9C390.5,240.0 393.4,238.2 396.3,236.6C399.2,235.0 402.2,233.7 405.1,232.6C408.0,231.5 410.9,230.7 413.8,230.0C416.7,229.3 419.7,228.7 422.6,228.2C425.5,227.7 428.5,227.2 431.4,227.0C434.3,226.8 437.2,226.8 440.1,227.0C443.0,227.2 446.8,227.8 448.9,228.1C451.0,228.4 451.9,228.8 452.5,228.9" stroke="#828282" stroke-width="3.4"/>
<path d="M277.2,339.0C277.2,338.6 277.1,338.5 277.3,336.6C277.5,334.7 277.9,330.5 278.3,327.7C278.7,324.9 279.0,322.4 279.5,319.7C280.0,317.0 280.8,314.0 281.5,311.7C282.2,309.4 282.8,307.8 283.9,305.8C285.0,303.8 286.2,301.6 287.9,299.8C289.5,298.0 291.5,296.5 293.8,294.9C296.1,293.2 299.2,291.5 301.8,289.9C304.4,288.3 307.1,287.0 309.7,285.5C312.3,284.0 315.0,282.4 317.7,280.9C320.4,279.4 323.0,278.0 325.7,276.6C328.4,275.2 331.5,273.7 333.6,272.7C335.7,271.7 336.8,271.3 338.5,270.7C340.2,270.1 342.2,269.5 343.8,269.1C345.4,268.6 346.6,268.1 348.0,267.8C349.4,267.5 351.0,267.2 352.5,267.1C354.0,266.9 355.5,266.9 357.0,266.9C358.5,266.9 359.8,266.9 361.3,266.9C362.8,267.0 364.6,267.0 366.0,267.0C367.4,267.0 368.6,267.0 370.0,266.8C371.4,266.6 372.9,266.4 374.4,265.8C375.9,265.2 377.4,264.4 378.8,263.4C380.2,262.5 381.5,261.5 383.0,260.2C384.5,258.9 385.4,257.9 387.6,255.9C389.8,253.9 393.4,250.3 396.3,248.0C399.2,245.7 402.2,243.7 405.1,241.9C408.0,240.2 410.9,238.8 413.8,237.5C416.7,236.2 419.7,235.3 422.6,234.4C425.5,233.5 428.5,232.8 431.4,232.3C434.3,231.9 437.2,231.6 440.1,231.7C443.0,231.8 446.8,232.3 448.9,232.6C451.0,232.9 451.9,233.3 452.5,233.4" stroke="#8b0000" stroke-width="3.4"/>
<circle cx="276.0" cy="336" r="0.55" fill="#e8e8e8" stroke="none"/>
<circle cx="276.15" cy="333" r="0.55" fill="#e8e8e8" stroke="none"/>
<circle cx="276.4" cy="330" r="0.55" fill="#e8e8e8" stroke="none"/>
<circle cx="276.7" cy="327" r="0.55" fill="#e8e8e8" stroke="none"/>
<circle cx="277.0" cy="324" r="0.55" fill="#e8e8e8" stroke="none"/>
<circle cx="277.4" cy="321" r="0.55" fill="#e8e8e8" stroke="none"/>
<circle cx="277.8" cy="318" r="0.55" fill="#e8e8e8" stroke="none"/>
<circle cx="278.2" cy="315" r="0.55" fill="#e8e8e8" stroke="none"/>
<circle cx="278.7" cy="312" r="0.55" fill="#e8e8e8" stroke="none"/>
<circle cx="277.3" cy="336.5" r="0.55" fill="#f0d0d0" stroke="none"/>
<circle cx="277.55" cy="333.5" r="0.55" fill="#f0d0d0" stroke="none"/>
<circle cx="277.9" cy="330.5" r="0.55" fill="#f0d0d0" stroke="none"/>
<circle cx="278.25" cy="327.5" r="0.55" fill="#f0d0d0" stroke="none"/>
<circle cx="278.7" cy="324.5" r="0.55" fill="#f0d0d0" stroke="none"/>
<circle cx="279.1" cy="321.5" r="0.55" fill="#f0d0d0" stroke="none"/>
<circle cx="279.6" cy="318.5" r="0.55" fill="#f0d0d0" stroke="none"/>
<circle cx="280.2" cy="315.5" r="0.55" fill="#f0d0d0" stroke="none"/>
<circle cx="280.9" cy="312.5" r="0.55" fill="#f0d0d0" stroke="none"/>
<circle cx="343.8" cy="263.1" r="0.6" fill="#f0f0f0" stroke="none"/>
<circle cx="343.8" cy="269.05" r="0.6" fill="#f4dada" stroke="none"/>
</g>
<rect x="273.5" y="195.6" width="179.0" height="143.4" fill="none" stroke="#000" stroke-width="1.3"/>
<line x1="273.5" y1="338.4" x2="276.7" y2="338.4" stroke="#000" stroke-width="0.9"/>
<text x="264.4" y="341.4" font-size="7.2" text-anchor="end">10</text><text x="264.4" y="338.0" font-size="4.8">12</text>
<line x1="273.5" y1="309.5" x2="276.7" y2="309.5" stroke="#000" stroke-width="0.9"/>
<text x="264.4" y="312.5" font-size="7.2" text-anchor="end">10</text><text x="264.4" y="309.1" font-size="4.8">13</text>
<line x1="273.5" y1="280.6" x2="276.7" y2="280.6" stroke="#000" stroke-width="0.9"/>
<text x="264.4" y="283.6" font-size="7.2" text-anchor="end">10</text><text x="264.4" y="280.2" font-size="4.8">14</text>
<line x1="273.5" y1="251.7" x2="276.7" y2="251.7" stroke="#000" stroke-width="0.9"/>
<text x="264.4" y="254.7" font-size="7.2" text-anchor="end">10</text><text x="264.4" y="251.3" font-size="4.8">15</text>
<line x1="273.5" y1="222.8" x2="276.7" y2="222.8" stroke="#000" stroke-width="0.9"/>
<text x="264.4" y="225.8" font-size="7.2" text-anchor="end">10</text><text x="264.4" y="222.4" font-size="4.8">16</text>
<line x1="273.5" y1="329.7" x2="275.0" y2="329.7" stroke="#000" stroke-width="0.6"/>
<line x1="273.5" y1="324.6" x2="275.0" y2="324.6" stroke="#000" stroke-width="0.6"/>
<line x1="273.5" y1="321.0" x2="275.0" y2="321.0" stroke="#000" stroke-width="0.6"/>
<line x1="273.5" y1="318.2" x2="275.0" y2="318.2" stroke="#000" stroke-width="0.6"/>
<line x1="273.5" y1="315.9" x2="275.0" y2="315.9" stroke="#000" stroke-width="0.6"/>
<line x1="273.5" y1="314.0" x2="275.0" y2="314.0" stroke="#000" stroke-width="0.6"/>
<line x1="273.5" y1="312.3" x2="275.0" y2="312.3" stroke="#000" stroke-width="0.6"/>
<line x1="273.5" y1="310.8" x2="275.0" y2="310.8" stroke="#000" stroke-width="0.6"/>
<line x1="273.5" y1="300.8" x2="275.0" y2="300.8" stroke="#000" stroke-width="0.6"/>
<line x1="273.5" y1="295.7" x2="275.0" y2="295.7" stroke="#000" stroke-width="0.6"/>
<line x1="273.5" y1="292.1" x2="275.0" y2="292.1" stroke="#000" stroke-width="0.6"/>
<line x1="273.5" y1="289.3" x2="275.0" y2="289.3" stroke="#000" stroke-width="0.6"/>
<line x1="273.5" y1="287.0" x2="275.0" y2="287.0" stroke="#000" stroke-width="0.6"/>
<line x1="273.5" y1="285.1" x2="275.0" y2="285.1" stroke="#000" stroke-width="0.6"/>
<line x1="273.5" y1="283.4" x2="275.0" y2="283.4" stroke="#000" stroke-width="0.6"/>
<line x1="273.5" y1="281.9" x2="275.0" y2="281.9" stroke="#000" stroke-width="0.6"/>
<line x1="273.5" y1="271.9" x2="275.0" y2="271.9" stroke="#000" stroke-width="0.6"/>
<line x1="273.5" y1="266.8" x2="275.0" y2="266.8" stroke="#000" stroke-width="0.6"/>
<line x1="273.5" y1="263.2" x2="275.0" y2="263.2" stroke="#000" stroke-width="0.6"/>
<line x1="273.5" y1="260.4" x2="275.0" y2="260.4" stroke="#000" stroke-width="0.6"/>
<line x1="273.5" y1="258.1" x2="275.0" y2="258.1" stroke="#000" stroke-width="0.6"/>
<line x1="273.5" y1="256.2" x2="275.0" y2="256.2" stroke="#000" stroke-width="0.6"/>
<line x1="273.5" y1="254.5" x2="275.0" y2="254.5" stroke="#000" stroke-width="0.6"/>
<line x1="273.5" y1="253.0" x2="275.0" y2="253.0" stroke="#000" stroke-width="0.6"/>
<line x1="273.5" y1="243.0" x2="275.0" y2="243.0" stroke="#000" stroke-width="0.6"/>
<line x1="273.5" y1="237.9" x2="275.0" y2="237.9" stroke="#000" stroke-width="0.6"/>
<line x1="273.5" y1="234.3" x2="275.0" y2="234.3" stroke="#000" stroke-width="0.6"/>
<line x1="273.5" y1="231.5" x2="275.0" y2="231.5" stroke="#000" stroke-width="0.6"/>
<line x1="273.5" y1="229.2" x2="275.0" y2="229.2" stroke="#000" stroke-width="0.6"/>
<line x1="273.5" y1="227.3" x2="275.0" y2="227.3" stroke="#000" stroke-width="0.6"/>
<line x1="273.5" y1="225.6" x2="275.0" y2="225.6" stroke="#000" stroke-width="0.6"/>
<line x1="273.5" y1="224.1" x2="275.0" y2="224.1" stroke="#000" stroke-width="0.6"/>
<line x1="273.5" y1="214.1" x2="275.0" y2="214.1" stroke="#000" stroke-width="0.6"/>
<line x1="273.5" y1="209.0" x2="275.0" y2="209.0" stroke="#000" stroke-width="0.6"/>
<line x1="273.5" y1="205.4" x2="275.0" y2="205.4" stroke="#000" stroke-width="0.6"/>
<line x1="273.5" y1="202.6" x2="275.0" y2="202.6" stroke="#000" stroke-width="0.6"/>
<line x1="273.5" y1="200.3" x2="275.0" y2="200.3" stroke="#000" stroke-width="0.6"/>
<line x1="273.5" y1="198.4" x2="275.0" y2="198.4" stroke="#000" stroke-width="0.6"/>
<line x1="273.5" y1="196.7" x2="275.0" y2="196.7" stroke="#000" stroke-width="0.6"/>
<line x1="273.5" y1="339" x2="273.5" y2="335.8" stroke="#000" stroke-width="0.9"/>
<text x="273.5" y="347.6" font-size="7.3" text-anchor="middle">0.30</text>
<line x1="342.3" y1="339" x2="342.3" y2="335.8" stroke="#000" stroke-width="0.9"/>
<text x="342.3" y="347.6" font-size="7.3" text-anchor="middle">0.35</text>
<line x1="411.1" y1="339" x2="411.1" y2="335.8" stroke="#000" stroke-width="0.9"/>
<text x="411.1" y="347.6" font-size="7.3" text-anchor="middle">0.40</text>
<line x1="307.9" y1="339" x2="307.9" y2="337.2" stroke="#000" stroke-width="0.8"/>
<line x1="376.7" y1="339" x2="376.7" y2="337.2" stroke="#000" stroke-width="0.8"/>
<line x1="445.5" y1="339" x2="445.5" y2="337.2" stroke="#000" stroke-width="0.8"/>
<text x="363" y="360" font-size="8.3" text-anchor="middle">Eω (eV)</text>
<text transform="translate(250.8,266.4) rotate(-90)" font-size="9.15" text-anchor="middle">N<tspan font-size="5.9" dy="1.8">T</tspan><tspan dy="-1.8"> (cm</tspan><tspan font-size="5.9" dy="-3.2">-3</tspan><tspan dy="3.2"> eV</tspan><tspan font-size="5.9" dy="-3.2">-1</tspan><tspan dy="3.2">)</tspan></text>
<line x1="289.7" y1="214.8" x2="306.6" y2="214.8" stroke="#828282" stroke-width="1.8"/><circle cx="298.1" cy="214.8" r="1.1" fill="#fff" stroke="#828282" stroke-width="0.6"/>
<line x1="289.7" y1="226" x2="306.6" y2="226" stroke="#8b0000" stroke-width="1.8"/><circle cx="298.1" cy="226" r="1.1" fill="#fff" stroke="#8b0000" stroke-width="0.6"/>
<text x="309" y="217.9" font-size="8.6">Control</text><text x="309" y="229.1" font-size="8.6">Target</text>
<path d="M503.0,132.98L513.7,132.93L516.3,132.88L517.6,132.83L518.4,132.78L519.0,132.72L519.4,132.67L519.8,132.60L520.1,132.54L520.3,132.49L520.5,132.42L520.7,132.35L520.9,132.26L521.0,132.20L521.1,132.15L521.2,132.08L521.3,132.01L521.4,131.92L521.5,131.83L521.6,131.72L521.7,131.60L521.8,131.46L521.9,131.30L522.0,131.12L522.1,130.90L522.2,130.66L522.3,130.36L522.4,130.02L522.5,129.62L522.6,129.14L522.7,128.58L522.8,127.93L522.9,127.19L523.0,126.37L523.1,125.50L523.2,124.65L523.3,123.91L523.4,123.39L523.5,123.21L523.6,123.39L523.7,123.89L523.8,124.63L523.9,125.48L524.0,126.35L524.1,127.16L524.2,127.90L524.3,128.54L524.4,129.09L524.5,129.56L524.6,129.96L524.7,130.29L524.8,130.58L524.9,130.82L525.0,131.03L525.1,131.21L525.2,131.36L525.3,131.49L525.4,131.60L525.5,131.70L525.6,131.79L525.7,131.86L525.8,131.92L525.9,131.98L526.1,132.07L526.3,132.14L526.6,132.20L527.7,132.13L527.9,132.06L528.0,132.02L528.1,131.97L528.2,131.91L528.3,131.84L528.4,131.76L528.5,131.67L528.6,131.56L528.7,131.43L528.8,131.28L528.9,131.11L529.0,130.91L529.1,130.66L529.2,130.38L529.3,130.05L529.4,129.65L529.5,129.19L529.6,128.64L529.7,128.02L529.8,127.34L529.9,126.61L530.0,125.89L530.1,125.27L530.2,124.84L530.3,124.68L530.4,124.84L530.5,125.28L530.6,125.91L530.7,126.63L530.8,127.37L530.9,128.06L531.0,128.69L531.1,129.24L531.2,129.71L531.3,130.11L531.4,130.45L531.5,130.74L531.6,130.99L531.7,131.20L531.8,131.38L531.9,131.54L532.0,131.67L532.1,131.79L532.2,131.89L532.3,131.98L532.4,132.06L532.5,132.13L532.6,132.20L532.7,132.25L532.8,132.30L533.0,132.39L533.2,132.46L533.4,132.52L533.7,132.59L534.0,132.64L534.4,132.70L534.9,132.75L535.6,132.80L536.8,132.85L544.1,132.80L544.6,132.74L545.0,132.68L545.3,132.61L545.5,132.54L545.7,132.46L545.8,132.41L545.9,132.35L546.0,132.29L546.1,132.21L546.2,132.12L546.3,132.01L546.4,131.88L546.5,131.72L546.6,131.52L546.7,131.28L546.8,130.98L546.9,130.60L547.0,130.10L547.1,129.46L547.2,128.60L547.3,127.47L547.4,126.00L547.5,124.17L547.6,122.14L547.7,120.39L547.8,119.68L547.9,120.39L548.0,122.14L548.1,124.17L548.2,126.00L548.3,127.48L548.4,128.61L548.5,129.46L548.6,130.11L548.7,130.60L548.8,130.99L548.9,131.29L549.0,131.53L549.1,131.72L549.2,131.88L549.3,132.01L549.4,132.12L549.5,132.22L549.6,132.29L549.7,132.36L549.8,132.42L549.9,132.47L550.1,132.55L550.3,132.62L550.5,132.67L550.8,132.73L551.2,132.78L551.8,132.84L552.8,132.89L555.0,132.94L575.4,132.99L641.0,132.94L641.6,132.88L641.9,132.82L642.1,132.74L642.2,132.68L642.3,132.60L642.4,132.48L642.5,132.30L642.6,132.00L642.7,131.46L642.8,130.37L642.9,127.64L643.0,118.77L643.1,101.20L643.2,118.77L643.3,127.64L643.4,130.37L643.5,131.46L643.6,132.00L643.7,132.30L643.8,132.48L643.9,132.60L644.0,132.68L644.1,132.74L644.3,132.82L644.6,132.88L645.2,132.94L649.8,132.99L657.7,132.94L658.6,132.88L659.0,132.82L659.3,132.74L659.4,132.70L659.5,132.65L659.6,132.58L659.7,132.50L659.8,132.38L659.9,132.23L660.0,132.00L660.1,131.65L660.2,131.08L660.3,130.06L660.4,127.98L660.5,122.79L660.6,105.90L660.7,72.47L660.8,105.90L660.9,122.78L661.0,127.97L661.1,130.05L661.2,131.07L661.3,131.63L661.4,131.97L661.5,132.20L661.6,132.35L661.7,132.46L661.8,132.54L661.9,132.60L662.1,132.67L663.0,132.60L663.1,132.53L663.2,132.41L663.3,132.24L663.4,131.96L663.5,131.44L663.6,130.37L663.7,127.71L663.8,119.03L663.9,101.85L664.0,119.04L664.1,127.72L664.2,130.39L664.3,131.46L664.4,131.99L664.5,132.28L664.6,132.46L664.7,132.58L664.8,132.66L664.9,132.72L665.1,132.80L665.4,132.87L665.9,132.92L667.5,132.97L682.2,133.00" fill="none" stroke="#828282" stroke-width="1.35" stroke-linejoin="round"/>
<path d="M503.0,67.79L514.9,67.73L517.4,67.68L518.6,67.63L519.4,67.58L519.9,67.52L520.3,67.46L520.6,67.41L520.9,67.34L521.1,67.28L521.3,67.20L521.5,67.11L521.6,67.06L521.7,67.00L521.8,66.93L521.9,66.86L522.0,66.77L522.1,66.67L522.2,66.56L522.3,66.43L522.4,66.29L522.5,66.11L522.6,65.91L522.7,65.68L522.8,65.40L522.9,65.08L523.0,64.69L523.1,64.25L523.2,63.73L523.3,63.13L523.4,62.47L523.5,61.77L523.6,61.08L523.7,60.49L523.8,60.07L523.9,59.92L524.0,60.07L524.1,60.48L524.2,61.07L524.3,61.75L524.4,62.45L524.5,63.11L524.6,63.70L524.7,64.21L524.8,64.66L524.9,65.03L525.0,65.35L525.1,65.62L525.2,65.85L525.3,66.05L525.4,66.22L525.5,66.36L525.6,66.48L525.7,66.59L525.8,66.68L525.9,66.76L526.0,66.83L526.1,66.89L526.2,66.94L526.4,67.02L526.6,67.09L526.9,67.15L528.3,67.09L528.5,67.03L528.7,66.95L528.8,66.89L528.9,66.83L529.0,66.76L529.1,66.68L529.2,66.59L529.3,66.48L529.4,66.35L529.5,66.20L529.6,66.03L529.7,65.82L529.8,65.58L529.9,65.29L530.0,64.95L530.1,64.56L530.2,64.09L530.3,63.56L530.4,62.98L530.5,62.35L530.6,61.74L530.7,61.21L530.8,60.84L530.9,60.71L531.0,60.85L531.1,61.22L531.2,61.75L531.3,62.37L531.4,63.00L531.5,63.59L531.6,64.13L531.7,64.59L531.8,65.00L531.9,65.34L532.0,65.63L532.1,65.88L532.2,66.09L532.3,66.27L532.4,66.42L532.5,66.56L532.6,66.67L532.7,66.77L532.8,66.86L532.9,66.94L533.0,67.01L533.1,67.07L533.2,67.12L533.4,67.21L533.6,67.28L533.8,67.34L534.1,67.41L534.4,67.47L534.8,67.52L535.3,67.57L536.1,67.63L537.5,67.68L544.1,67.62L544.7,67.57L545.1,67.50L545.4,67.44L545.6,67.38L545.8,67.31L545.9,67.26L546.0,67.21L546.1,67.15L546.2,67.07L546.3,66.99L546.4,66.89L546.5,66.77L546.6,66.62L546.7,66.45L546.8,66.23L546.9,65.95L547.0,65.60L547.1,65.14L547.2,64.55L547.3,63.77L547.4,62.73L547.5,61.38L547.6,59.70L547.7,57.84L547.8,56.23L547.9,55.58L548.0,56.24L548.1,57.84L548.2,59.70L548.3,61.38L548.4,62.73L548.5,63.77L548.6,64.55L548.7,65.15L548.8,65.60L548.9,65.95L549.0,66.23L549.1,66.45L549.2,66.63L549.3,66.78L549.4,66.90L549.5,67.00L549.6,67.08L549.7,67.15L549.8,67.22L549.9,67.27L550.1,67.36L550.3,67.42L550.5,67.47L550.8,67.53L551.2,67.59L551.8,67.65L552.8,67.70L555.2,67.75L641.7,67.69L642.0,67.63L642.2,67.56L642.3,67.51L642.4,67.43L642.5,67.32L642.6,67.15L642.7,66.88L642.8,66.39L642.9,65.38L643.0,62.86L643.1,54.69L643.2,38.50L643.3,54.69L643.4,62.86L643.5,65.38L643.6,66.39L643.7,66.88L643.8,67.15L643.9,67.32L644.0,67.43L644.1,67.51L644.2,67.56L644.4,67.63L644.7,67.69L645.3,67.74L658.9,67.68L659.2,67.63L659.4,67.58L659.6,67.49L659.7,67.43L659.8,67.34L659.9,67.22L660.0,67.05L660.1,66.79L660.2,66.36L660.3,65.59L660.4,64.01L660.5,60.07L660.6,47.26L660.7,21.90L660.8,47.26L660.9,60.07L661.0,64.01L661.1,65.59L661.2,66.36L661.3,66.79L661.4,67.05L661.5,67.23L661.6,67.34L661.7,67.43L661.8,67.49L662.0,67.58L662.2,67.63L662.5,67.68L663.1,67.73L665.8,67.78L682.2,67.80" fill="none" stroke="#8b0000" stroke-width="1.35" stroke-linejoin="round"/>
<line x1="643.1" y1="101.2" x2="643.1" y2="133" stroke="#828282" stroke-width="1.3"/>
<line x1="660.7" y1="72.5" x2="660.7" y2="133" stroke="#828282" stroke-width="1.3"/>
<line x1="663.9" y1="101.9" x2="663.9" y2="133" stroke="#828282" stroke-width="1.3"/>
<line x1="643.2" y1="38.5" x2="643.2" y2="67.8" stroke="#8b0000" stroke-width="1.3"/>
<line x1="660.7" y1="21.9" x2="660.7" y2="67.8" stroke="#8b0000" stroke-width="1.3"/>
<rect x="503" y="4.2" width="179.29999999999995" height="143.4" fill="none" stroke="#3c3c3c" stroke-width="1.3"/>
<line x1="503.2" y1="147.6" x2="503.2" y2="144.4" stroke="#000" stroke-width="0.9"/>
<text x="503.2" y="156.9" font-size="7.3" text-anchor="middle">10</text>
<line x1="545.2" y1="147.6" x2="545.2" y2="144.4" stroke="#000" stroke-width="0.9"/>
<text x="545.2" y="156.9" font-size="7.3" text-anchor="middle">8</text>
<line x1="587.3" y1="147.6" x2="587.3" y2="144.4" stroke="#000" stroke-width="0.9"/>
<text x="587.3" y="156.9" font-size="7.3" text-anchor="middle">6</text>
<line x1="629.3" y1="147.6" x2="629.3" y2="144.4" stroke="#000" stroke-width="0.9"/>
<text x="629.3" y="156.9" font-size="7.3" text-anchor="middle">4</text>
<line x1="671.4" y1="147.6" x2="671.4" y2="144.4" stroke="#000" stroke-width="0.9"/>
<text x="671.4" y="156.9" font-size="7.3" text-anchor="middle">2</text>
<line x1="524.2" y1="147.6" x2="524.2" y2="145.79999999999998" stroke="#000" stroke-width="0.8"/>
<line x1="566.3" y1="147.6" x2="566.3" y2="145.79999999999998" stroke="#000" stroke-width="0.8"/>
<line x1="608.3" y1="147.6" x2="608.3" y2="145.79999999999998" stroke="#000" stroke-width="0.8"/>
<line x1="650.3" y1="147.6" x2="650.3" y2="145.79999999999998" stroke="#000" stroke-width="0.8"/>
<text x="598.2" y="166.9" font-size="8.85" text-anchor="middle">Chemical Shift (ppm)</text>
<text transform="translate(496.6,76) rotate(-90)" font-size="8.5" text-anchor="middle">Intensity (a.u.)</text>
<text x="515.3" y="19.6" font-size="9.55">After annealing</text>
<line x1="515.9" y1="30.6" x2="532" y2="30.6" stroke="#828282" stroke-width="1.4"/><line x1="515.9" y1="42.8" x2="532" y2="42.8" stroke="#8b0000" stroke-width="1.4"/>
<text x="534.5" y="33.2" font-size="9.5">Control</text><text x="534.8" y="45.2" font-size="9.8" textLength="29.4" lengthAdjust="spacingAndGlyphs">Target</text>
<text x="664.6" y="64.6" font-size="10.5" text-anchor="middle">*</text>
<g clip-path="url(#cE)">
<polyline points="507.0,203.0 509.3,255.4 511.7,244.6 514.0,246.7 516.4,245.3 518.7,258.7 521.0,258.7 523.4,261.4 525.7,265.5 528.1,251.4 530.4,237.3 532.7,268.1 535.1,268.8 537.4,272.2 539.7,258.7 542.1,259.4 544.4,227.9 546.8,260.1 549.1,253.4 551.4,248.0 553.8,246.7 556.1,257.1 558.5,261.4 560.8,257.1 563.1,260.1 565.5,258.7 567.8,276.9 570.2,273.2 572.5,249.2 574.8,267.7 577.2,260.1 579.5,270.8 581.8,241.2 584.2,274.5 586.5,268.8 588.9,275.7 591.2,267.7 593.5,275.7 595.9,282.0 598.2,299.7 600.6,286.3 602.9,298.3 605.2,309.1 607.6,301.7 609.9,305.1 612.3,310.4 614.6,319.8 616.9,315.1 619.3,321.2 621.6,317.1 624.0,311.8 626.3,317.1 628.6,319.8 631.0,323.9 633.3,322.5 635.6,319.8 638.0,315.8 640.3,315.8 642.7,319.8 645.0,317.1 647.3,321.2 649.7,323.9 652.0,319.8 654.4,323.9 656.7,326.5 659.0,319.8 661.4,317.1 663.7,318.5 666.1,322.5 668.4,317.1 670.7,321.2 673.1,322.5 675.4,313.1 677.7,319.8 680.1,314.5 682.4,315.8 684.8,322.5" fill="none" stroke="#707070" stroke-width="0.95" stroke-linejoin="round"/>
<circle cx="507.0" cy="203.0" r="1.45" fill="#bdbdbd" stroke="#707070" stroke-width="0.6"/>
<circle cx="509.3" cy="255.4" r="1.45" fill="#bdbdbd" stroke="#707070" stroke-width="0.6"/>
<circle cx="511.7" cy="244.6" r="1.45" fill="#bdbdbd" stroke="#707070" stroke-width="0.6"/>
<circle cx="514.0" cy="246.7" r="1.45" fill="#bdbdbd" stroke="#707070" stroke-width="0.6"/>
<circle cx="516.4" cy="245.3" r="1.45" fill="#bdbdbd" stroke="#707070" stroke-width="0.6"/>
<circle cx="518.7" cy="258.7" r="1.45" fill="#bdbdbd" stroke="#707070" stroke-width="0.6"/>
<circle cx="521.0" cy="258.7" r="1.45" fill="#bdbdbd" stroke="#707070" stroke-width="0.6"/>
<circle cx="523.4" cy="261.4" r="1.45" fill="#bdbdbd" stroke="#707070" stroke-width="0.6"/>
<circle cx="525.7" cy="265.5" r="1.45" fill="#bdbdbd" stroke="#707070" stroke-width="0.6"/>
<circle cx="528.1" cy="251.4" r="1.45" fill="#bdbdbd" stroke="#707070" stroke-width="0.6"/>
<circle cx="530.4" cy="237.3" r="1.45" fill="#bdbdbd" stroke="#707070" stroke-width="0.6"/>
<circle cx="532.7" cy="268.1" r="1.45" fill="#bdbdbd" stroke="#707070" stroke-width="0.6"/>
<circle cx="535.1" cy="268.8" r="1.45" fill="#bdbdbd" stroke="#707070" stroke-width="0.6"/>
<circle cx="537.4" cy="272.2" r="1.45" fill="#bdbdbd" stroke="#707070" stroke-width="0.6"/>
<circle cx="539.7" cy="258.7" r="1.45" fill="#bdbdbd" stroke="#707070" stroke-width="0.6"/>
<circle cx="542.1" cy="259.4" r="1.45" fill="#bdbdbd" stroke="#707070" stroke-width="0.6"/>
<circle cx="544.4" cy="227.9" r="1.45" fill="#bdbdbd" stroke="#707070" stroke-width="0.6"/>
<circle cx="546.8" cy="260.1" r="1.45" fill="#bdbdbd" stroke="#707070" stroke-width="0.6"/>
<circle cx="549.1" cy="253.4" r="1.45" fill="#bdbdbd" stroke="#707070" stroke-width="0.6"/>
<circle cx="551.4" cy="248.0" r="1.45" fill="#bdbdbd" stroke="#707070" stroke-width="0.6"/>
<circle cx="553.8" cy="246.7" r="1.45" fill="#bdbdbd" stroke="#707070" stroke-width="0.6"/>
<circle cx="556.1" cy="257.1" r="1.45" fill="#bdbdbd" stroke="#707070" stroke-width="0.6"/>
<circle cx="558.5" cy="261.4" r="1.45" fill="#bdbdbd" stroke="#707070" stroke-width="0.6"/>
<circle cx="560.8" cy="257.1" r="1.45" fill="#bdbdbd" stroke="#707070" stroke-width="0.6"/>
<circle cx="563.1" cy="260.1" r="1.45" fill="#bdbdbd" stroke="#707070" stroke-width="0.6"/>
<circle cx="565.5" cy="258.7" r="1.45" fill="#bdbdbd" stroke="#707070" stroke-width="0.6"/>
<circle cx="567.8" cy="276.9" r="1.45" fill="#bdbdbd" stroke="#707070" stroke-width="0.6"/>
<circle cx="570.2" cy="273.2" r="1.45" fill="#bdbdbd" stroke="#707070" stroke-width="0.6"/>
<circle cx="572.5" cy="249.2" r="1.45" fill="#bdbdbd" stroke="#707070" stroke-width="0.6"/>
<circle cx="574.8" cy="267.7" r="1.45" fill="#bdbdbd" stroke="#707070" stroke-width="0.6"/>
<circle cx="577.2" cy="260.1" r="1.45" fill="#bdbdbd" stroke="#707070" stroke-width="0.6"/>
<circle cx="579.5" cy="270.8" r="1.45" fill="#bdbdbd" stroke="#707070" stroke-width="0.6"/>
<circle cx="581.8" cy="241.2" r="1.45" fill="#bdbdbd" stroke="#707070" stroke-width="0.6"/>
<circle cx="584.2" cy="274.5" r="1.45" fill="#bdbdbd" stroke="#707070" stroke-width="0.6"/>
<circle cx="586.5" cy="268.8" r="1.45" fill="#bdbdbd" stroke="#707070" stroke-width="0.6"/>
<circle cx="588.9" cy="275.7" r="1.45" fill="#bdbdbd" stroke="#707070" stroke-width="0.6"/>
<circle cx="591.2" cy="267.7" r="1.45" fill="#bdbdbd" stroke="#707070" stroke-width="0.6"/>
<circle cx="593.5" cy="275.7" r="1.45" fill="#bdbdbd" stroke="#707070" stroke-width="0.6"/>
<circle cx="595.9" cy="282.0" r="1.45" fill="#bdbdbd" stroke="#707070" stroke-width="0.6"/>
<circle cx="598.2" cy="299.7" r="1.45" fill="#bdbdbd" stroke="#707070" stroke-width="0.6"/>
<circle cx="600.6" cy="286.3" r="1.45" fill="#bdbdbd" stroke="#707070" stroke-width="0.6"/>
<circle cx="602.9" cy="298.3" r="1.45" fill="#bdbdbd" stroke="#707070" stroke-width="0.6"/>
<circle cx="605.2" cy="309.1" r="1.45" fill="#bdbdbd" stroke="#707070" stroke-width="0.6"/>
<circle cx="607.6" cy="301.7" r="1.45" fill="#bdbdbd" stroke="#707070" stroke-width="0.6"/>
<circle cx="609.9" cy="305.1" r="1.45" fill="#bdbdbd" stroke="#707070" stroke-width="0.6"/>
<circle cx="612.3" cy="310.4" r="1.45" fill="#bdbdbd" stroke="#707070" stroke-width="0.6"/>
<circle cx="614.6" cy="319.8" r="1.45" fill="#bdbdbd" stroke="#707070" stroke-width="0.6"/>
<circle cx="616.9" cy="315.1" r="1.45" fill="#bdbdbd" stroke="#707070" stroke-width="0.6"/>
<circle cx="619.3" cy="321.2" r="1.45" fill="#bdbdbd" stroke="#707070" stroke-width="0.6"/>
<circle cx="621.6" cy="317.1" r="1.45" fill="#bdbdbd" stroke="#707070" stroke-width="0.6"/>
<circle cx="624.0" cy="311.8" r="1.45" fill="#bdbdbd" stroke="#707070" stroke-width="0.6"/>
<circle cx="626.3" cy="317.1" r="1.45" fill="#bdbdbd" stroke="#707070" stroke-width="0.6"/>
<circle cx="628.6" cy="319.8" r="1.45" fill="#bdbdbd" stroke="#707070" stroke-width="0.6"/>
<circle cx="631.0" cy="323.9" r="1.45" fill="#bdbdbd" stroke="#707070" stroke-width="0.6"/>
<circle cx="633.3" cy="322.5" r="1.45" fill="#bdbdbd" stroke="#707070" stroke-width="0.6"/>
<circle cx="635.6" cy="319.8" r="1.45" fill="#bdbdbd" stroke="#707070" stroke-width="0.6"/>
<circle cx="638.0" cy="315.8" r="1.45" fill="#bdbdbd" stroke="#707070" stroke-width="0.6"/>
<circle cx="640.3" cy="315.8" r="1.45" fill="#bdbdbd" stroke="#707070" stroke-width="0.6"/>
<circle cx="642.7" cy="319.8" r="1.45" fill="#bdbdbd" stroke="#707070" stroke-width="0.6"/>
<circle cx="645.0" cy="317.1" r="1.45" fill="#bdbdbd" stroke="#707070" stroke-width="0.6"/>
<circle cx="647.3" cy="321.2" r="1.45" fill="#bdbdbd" stroke="#707070" stroke-width="0.6"/>
<circle cx="649.7" cy="323.9" r="1.45" fill="#bdbdbd" stroke="#707070" stroke-width="0.6"/>
<circle cx="652.0" cy="319.8" r="1.45" fill="#bdbdbd" stroke="#707070" stroke-width="0.6"/>
<circle cx="654.4" cy="323.9" r="1.45" fill="#bdbdbd" stroke="#707070" stroke-width="0.6"/>
<circle cx="656.7" cy="326.5" r="1.45" fill="#bdbdbd" stroke="#707070" stroke-width="0.6"/>
<circle cx="659.0" cy="319.8" r="1.45" fill="#bdbdbd" stroke="#707070" stroke-width="0.6"/>
<circle cx="661.4" cy="317.1" r="1.45" fill="#bdbdbd" stroke="#707070" stroke-width="0.6"/>
<circle cx="663.7" cy="318.5" r="1.45" fill="#bdbdbd" stroke="#707070" stroke-width="0.6"/>
<circle cx="666.1" cy="322.5" r="1.45" fill="#bdbdbd" stroke="#707070" stroke-width="0.6"/>
<circle cx="668.4" cy="317.1" r="1.45" fill="#bdbdbd" stroke="#707070" stroke-width="0.6"/>
<circle cx="670.7" cy="321.2" r="1.45" fill="#bdbdbd" stroke="#707070" stroke-width="0.6"/>
<circle cx="673.1" cy="322.5" r="1.45" fill="#bdbdbd" stroke="#707070" stroke-width="0.6"/>
<circle cx="675.4" cy="313.1" r="1.45" fill="#bdbdbd" stroke="#707070" stroke-width="0.6"/>
<circle cx="677.7" cy="319.8" r="1.45" fill="#bdbdbd" stroke="#707070" stroke-width="0.6"/>
<circle cx="680.1" cy="314.5" r="1.45" fill="#bdbdbd" stroke="#707070" stroke-width="0.6"/>
<circle cx="682.4" cy="315.8" r="1.45" fill="#bdbdbd" stroke="#707070" stroke-width="0.6"/>
<circle cx="684.8" cy="322.5" r="1.45" fill="#bdbdbd" stroke="#707070" stroke-width="0.6"/>
<polyline points="507.0,314.5 509.3,301.0 511.7,314.5 514.0,309.1 516.4,303.7 518.7,314.5 521.0,314.5 523.4,299.7 525.7,307.7 528.1,306.4 530.4,302.4 532.7,314.5 535.1,305.1 537.4,307.7 539.7,303.7 542.1,309.1 544.4,313.1 546.8,314.5 549.1,311.8 551.4,314.5 553.8,314.5 556.1,305.1 558.5,302.4 560.8,303.7 563.1,299.7 565.5,303.7 567.8,314.5 570.2,306.4 572.5,303.7 574.8,314.5 577.2,302.4 579.5,314.5 581.8,301.0 584.2,304.4 586.5,309.8 588.9,314.5 591.2,307.1 593.5,307.1 595.9,307.1 598.2,303.0 600.6,307.1 602.9,314.5 605.2,317.1 607.6,311.8 609.9,319.2 612.3,320.5 614.6,316.5 616.9,314.5 619.3,322.5 621.6,318.5 624.0,317.1 626.3,321.8 628.6,314.5 631.0,322.5 633.3,320.5 635.6,323.2 638.0,321.8 640.3,316.5 642.7,321.8 645.0,319.2 647.3,321.8 649.7,318.5 652.0,323.2 654.4,324.5 656.7,314.5 659.0,318.5 661.4,319.2 663.7,321.2 666.1,323.2 668.4,320.5 670.7,321.8 673.1,323.2 675.4,317.1 677.7,319.2 680.1,318.5 682.4,321.8 684.8,316.5" fill="none" stroke="#8b0000" stroke-width="0.95" stroke-linejoin="round"/>
<circle cx="507.0" cy="314.5" r="1.45" fill="#b23a3a" stroke="#8b0000" stroke-width="0.6"/>
<circle cx="509.3" cy="301.0" r="1.45" fill="#b23a3a" stroke="#8b0000" stroke-width="0.6"/>
<circle cx="511.7" cy="314.5" r="1.45" fill="#b23a3a" stroke="#8b0000" stroke-width="0.6"/>
<circle cx="514.0" cy="309.1" r="1.45" fill="#b23a3a" stroke="#8b0000" stroke-width="0.6"/>
<circle cx="516.4" cy="303.7" r="1.45" fill="#b23a3a" stroke="#8b0000" stroke-width="0.6"/>
<circle cx="518.7" cy="314.5" r="1.45" fill="#b23a3a" stroke="#8b0000" stroke-width="0.6"/>
<circle cx="521.0" cy="314.5" r="1.45" fill="#b23a3a" stroke="#8b0000" stroke-width="0.6"/>
<circle cx="523.4" cy="299.7" r="1.45" fill="#b23a3a" stroke="#8b0000" stroke-width="0.6"/>
<circle cx="525.7" cy="307.7" r="1.45" fill="#b23a3a" stroke="#8b0000" stroke-width="0.6"/>
<circle cx="528.1" cy="306.4" r="1.45" fill="#b23a3a" stroke="#8b0000" stroke-width="0.6"/>
<circle cx="530.4" cy="302.4" r="1.45" fill="#b23a3a" stroke="#8b0000" stroke-width="0.6"/>
<circle cx="532.7" cy="314.5" r="1.45" fill="#b23a3a" stroke="#8b0000" stroke-width="0.6"/>
<circle cx="535.1" cy="305.1" r="1.45" fill="#b23a3a" stroke="#8b0000" stroke-width="0.6"/>
<circle cx="537.4" cy="307.7" r="1.45" fill="#b23a3a" stroke="#8b0000" stroke-width="0.6"/>
<circle cx="539.7" cy="303.7" r="1.45" fill="#b23a3a" stroke="#8b0000" stroke-width="0.6"/>
<circle cx="542.1" cy="309.1" r="1.45" fill="#b23a3a" stroke="#8b0000" stroke-width="0.6"/>
<circle cx="544.4" cy="313.1" r="1.45" fill="#b23a3a" stroke="#8b0000" stroke-width="0.6"/>
<circle cx="546.8" cy="314.5" r="1.45" fill="#b23a3a" stroke="#8b0000" stroke-width="0.6"/>
<circle cx="549.1" cy="311.8" r="1.45" fill="#b23a3a" stroke="#8b0000" stroke-width="0.6"/>
<circle cx="551.4" cy="314.5" r="1.45" fill="#b23a3a" stroke="#8b0000" stroke-width="0.6"/>
<circle cx="553.8" cy="314.5" r="1.45" fill="#b23a3a" stroke="#8b0000" stroke-width="0.6"/>
<circle cx="556.1" cy="305.1" r="1.45" fill="#b23a3a" stroke="#8b0000" stroke-width="0.6"/>
<circle cx="558.5" cy="302.4" r="1.45" fill="#b23a3a" stroke="#8b0000" stroke-width="0.6"/>
<circle cx="560.8" cy="303.7" r="1.45" fill="#b23a3a" stroke="#8b0000" stroke-width="0.6"/>
<circle cx="563.1" cy="299.7" r="1.45" fill="#b23a3a" stroke="#8b0000" stroke-width="0.6"/>
<circle cx="565.5" cy="303.7" r="1.45" fill="#b23a3a" stroke="#8b0000" stroke-width="0.6"/>
<circle cx="567.8" cy="314.5" r="1.45" fill="#b23a3a" stroke="#8b0000" stroke-width="0.6"/>
<circle cx="570.2" cy="306.4" r="1.45" fill="#b23a3a" stroke="#8b0000" stroke-width="0.6"/>
<circle cx="572.5" cy="303.7" r="1.45" fill="#b23a3a" stroke="#8b0000" stroke-width="0.6"/>
<circle cx="574.8" cy="314.5" r="1.45" fill="#b23a3a" stroke="#8b0000" stroke-width="0.6"/>
<circle cx="577.2" cy="302.4" r="1.45" fill="#b23a3a" stroke="#8b0000" stroke-width="0.6"/>
<circle cx="579.5" cy="314.5" r="1.45" fill="#b23a3a" stroke="#8b0000" stroke-width="0.6"/>
<circle cx="581.8" cy="301.0" r="1.45" fill="#b23a3a" stroke="#8b0000" stroke-width="0.6"/>
<circle cx="584.2" cy="304.4" r="1.45" fill="#b23a3a" stroke="#8b0000" stroke-width="0.6"/>
<circle cx="586.5" cy="309.8" r="1.45" fill="#b23a3a" stroke="#8b0000" stroke-width="0.6"/>
<circle cx="588.9" cy="314.5" r="1.45" fill="#b23a3a" stroke="#8b0000" stroke-width="0.6"/>
<circle cx="591.2" cy="307.1" r="1.45" fill="#b23a3a" stroke="#8b0000" stroke-width="0.6"/>
<circle cx="593.5" cy="307.1" r="1.45" fill="#b23a3a" stroke="#8b0000" stroke-width="0.6"/>
<circle cx="595.9" cy="307.1" r="1.45" fill="#b23a3a" stroke="#8b0000" stroke-width="0.6"/>
<circle cx="598.2" cy="303.0" r="1.45" fill="#b23a3a" stroke="#8b0000" stroke-width="0.6"/>
<circle cx="600.6" cy="307.1" r="1.45" fill="#b23a3a" stroke="#8b0000" stroke-width="0.6"/>
<circle cx="602.9" cy="314.5" r="1.45" fill="#b23a3a" stroke="#8b0000" stroke-width="0.6"/>
<circle cx="605.2" cy="317.1" r="1.45" fill="#b23a3a" stroke="#8b0000" stroke-width="0.6"/>
<circle cx="607.6" cy="311.8" r="1.45" fill="#b23a3a" stroke="#8b0000" stroke-width="0.6"/>
<circle cx="609.9" cy="319.2" r="1.45" fill="#b23a3a" stroke="#8b0000" stroke-width="0.6"/>
<circle cx="612.3" cy="320.5" r="1.45" fill="#b23a3a" stroke="#8b0000" stroke-width="0.6"/>
<circle cx="614.6" cy="316.5" r="1.45" fill="#b23a3a" stroke="#8b0000" stroke-width="0.6"/>
<circle cx="616.9" cy="314.5" r="1.45" fill="#b23a3a" stroke="#8b0000" stroke-width="0.6"/>
<circle cx="619.3" cy="322.5" r="1.45" fill="#b23a3a" stroke="#8b0000" stroke-width="0.6"/>
<circle cx="621.6" cy="318.5" r="1.45" fill="#b23a3a" stroke="#8b0000" stroke-width="0.6"/>
<circle cx="624.0" cy="317.1" r="1.45" fill="#b23a3a" stroke="#8b0000" stroke-width="0.6"/>
<circle cx="626.3" cy="321.8" r="1.45" fill="#b23a3a" stroke="#8b0000" stroke-width="0.6"/>
<circle cx="628.6" cy="314.5" r="1.45" fill="#b23a3a" stroke="#8b0000" stroke-width="0.6"/>
<circle cx="631.0" cy="322.5" r="1.45" fill="#b23a3a" stroke="#8b0000" stroke-width="0.6"/>
<circle cx="633.3" cy="320.5" r="1.45" fill="#b23a3a" stroke="#8b0000" stroke-width="0.6"/>
<circle cx="635.6" cy="323.2" r="1.45" fill="#b23a3a" stroke="#8b0000" stroke-width="0.6"/>
<circle cx="638.0" cy="321.8" r="1.45" fill="#b23a3a" stroke="#8b0000" stroke-width="0.6"/>
<circle cx="640.3" cy="316.5" r="1.45" fill="#b23a3a" stroke="#8b0000" stroke-width="0.6"/>
<circle cx="642.7" cy="321.8" r="1.45" fill="#b23a3a" stroke="#8b0000" stroke-width="0.6"/>
<circle cx="645.0" cy="319.2" r="1.45" fill="#b23a3a" stroke="#8b0000" stroke-width="0.6"/>
<circle cx="647.3" cy="321.8" r="1.45" fill="#b23a3a" stroke="#8b0000" stroke-width="0.6"/>
<circle cx="649.7" cy="318.5" r="1.45" fill="#b23a3a" stroke="#8b0000" stroke-width="0.6"/>
<circle cx="652.0" cy="323.2" r="1.45" fill="#b23a3a" stroke="#8b0000" stroke-width="0.6"/>
<circle cx="654.4" cy="324.5" r="1.45" fill="#b23a3a" stroke="#8b0000" stroke-width="0.6"/>
<circle cx="656.7" cy="314.5" r="1.45" fill="#b23a3a" stroke="#8b0000" stroke-width="0.6"/>
<circle cx="659.0" cy="318.5" r="1.45" fill="#b23a3a" stroke="#8b0000" stroke-width="0.6"/>
<circle cx="661.4" cy="319.2" r="1.45" fill="#b23a3a" stroke="#8b0000" stroke-width="0.6"/>
<circle cx="663.7" cy="321.2" r="1.45" fill="#b23a3a" stroke="#8b0000" stroke-width="0.6"/>
<circle cx="666.1" cy="323.2" r="1.45" fill="#b23a3a" stroke="#8b0000" stroke-width="0.6"/>
<circle cx="668.4" cy="320.5" r="1.45" fill="#b23a3a" stroke="#8b0000" stroke-width="0.6"/>
<circle cx="670.7" cy="321.8" r="1.45" fill="#b23a3a" stroke="#8b0000" stroke-width="0.6"/>
<circle cx="673.1" cy="323.2" r="1.45" fill="#b23a3a" stroke="#8b0000" stroke-width="0.6"/>
<circle cx="675.4" cy="317.1" r="1.45" fill="#b23a3a" stroke="#8b0000" stroke-width="0.6"/>
<circle cx="677.7" cy="319.2" r="1.45" fill="#b23a3a" stroke="#8b0000" stroke-width="0.6"/>
<circle cx="680.1" cy="318.5" r="1.45" fill="#b23a3a" stroke="#8b0000" stroke-width="0.6"/>
<circle cx="682.4" cy="321.8" r="1.45" fill="#b23a3a" stroke="#8b0000" stroke-width="0.6"/>
<circle cx="684.8" cy="316.5" r="1.45" fill="#b23a3a" stroke="#8b0000" stroke-width="0.6"/>
</g>
<rect x="505.1" y="192.2" width="179.29999999999995" height="144.10000000000002" fill="none" stroke="#000" stroke-width="1.3"/>
<line x1="505.1" y1="325.0" x2="508.3" y2="325.0" stroke="#000" stroke-width="0.9"/>
<text x="502" y="327.1" font-size="5.8" text-anchor="end">0</text>
<line x1="505.1" y1="298.4" x2="508.3" y2="298.4" stroke="#000" stroke-width="0.9"/>
<text x="502" y="300.5" font-size="5.8" text-anchor="end">20</text>
<line x1="505.1" y1="271.8" x2="508.3" y2="271.8" stroke="#000" stroke-width="0.9"/>
<text x="502" y="273.9" font-size="5.8" text-anchor="end">40</text>
<line x1="505.1" y1="245.2" x2="508.3" y2="245.2" stroke="#000" stroke-width="0.9"/>
<text x="502" y="247.3" font-size="5.8" text-anchor="end">60</text>
<line x1="505.1" y1="218.6" x2="508.3" y2="218.6" stroke="#000" stroke-width="0.9"/>
<text x="502" y="220.7" font-size="5.8" text-anchor="end">80</text>
<text x="502" y="194.1" font-size="5.8" text-anchor="end">100</text>
<line x1="505.1" y1="311.7" x2="506.90000000000003" y2="311.7" stroke="#000" stroke-width="0.8"/>
<line x1="505.1" y1="285.1" x2="506.90000000000003" y2="285.1" stroke="#000" stroke-width="0.8"/>
<line x1="505.1" y1="258.5" x2="506.90000000000003" y2="258.5" stroke="#000" stroke-width="0.8"/>
<line x1="505.1" y1="231.9" x2="506.90000000000003" y2="231.9" stroke="#000" stroke-width="0.8"/>
<line x1="505.1" y1="205.3" x2="506.90000000000003" y2="205.3" stroke="#000" stroke-width="0.8"/>
<line x1="505.2" y1="336.3" x2="505.2" y2="333.1" stroke="#000" stroke-width="0.9"/>
<text x="505.2" y="344.4" font-size="5.8" text-anchor="middle">0</text>
<line x1="536.3" y1="336.3" x2="536.3" y2="333.1" stroke="#000" stroke-width="0.9"/>
<text x="536.3" y="344.4" font-size="5.8" text-anchor="middle">200</text>
<line x1="567.4" y1="336.3" x2="567.4" y2="333.1" stroke="#000" stroke-width="0.9"/>
<text x="567.4" y="344.4" font-size="5.8" text-anchor="middle">400</text>
<line x1="598.6" y1="336.3" x2="598.6" y2="333.1" stroke="#000" stroke-width="0.9"/>
<text x="598.6" y="344.4" font-size="5.8" text-anchor="middle">600</text>
<line x1="629.7" y1="336.3" x2="629.7" y2="333.1" stroke="#000" stroke-width="0.9"/>
<text x="629.7" y="344.4" font-size="5.8" text-anchor="middle">800</text>
<line x1="660.8" y1="336.3" x2="660.8" y2="333.1" stroke="#000" stroke-width="0.9"/>
<text x="660.8" y="344.4" font-size="5.8" text-anchor="middle">1000</text>
<line x1="520.8" y1="336.3" x2="520.8" y2="334.5" stroke="#000" stroke-width="0.8"/>
<line x1="551.9" y1="336.3" x2="551.9" y2="334.5" stroke="#000" stroke-width="0.8"/>
<line x1="583.0" y1="336.3" x2="583.0" y2="334.5" stroke="#000" stroke-width="0.8"/>
<line x1="614.1" y1="336.3" x2="614.1" y2="334.5" stroke="#000" stroke-width="0.8"/>
<line x1="645.2" y1="336.3" x2="645.2" y2="334.5" stroke="#000" stroke-width="0.8"/>
<line x1="676.4" y1="336.3" x2="676.4" y2="334.5" stroke="#000" stroke-width="0.8"/>
<text x="604.2" y="354.9" font-size="7.4" text-anchor="middle">Sputter Time (s)</text>
<text transform="translate(489,264.3) rotate(-90)" font-size="7.4" text-anchor="middle">Counts</text>
<line x1="526" y1="204.3" x2="542.8" y2="204.3" stroke="#707070" stroke-width="0.95"/><circle cx="534.3" cy="204.3" r="1.45" fill="#bdbdbd" stroke="#707070" stroke-width="0.6"/>
<line x1="526" y1="215.3" x2="542.8" y2="215.3" stroke="#8b0000" stroke-width="1.1"/><circle cx="534.3" cy="215.3" r="1.45" fill="#b23a3a" stroke="#8b0000" stroke-width="0.6"/>
<text x="545.1" y="207.1" font-size="9">Control</text><text x="545.1" y="218.2" font-size="9">Target</text>
<text x="655.2" y="209.2" font-size="8.3">MA<tspan font-size="6.4" dy="-3.4">+</tspan></text>
</svg></body></html>
